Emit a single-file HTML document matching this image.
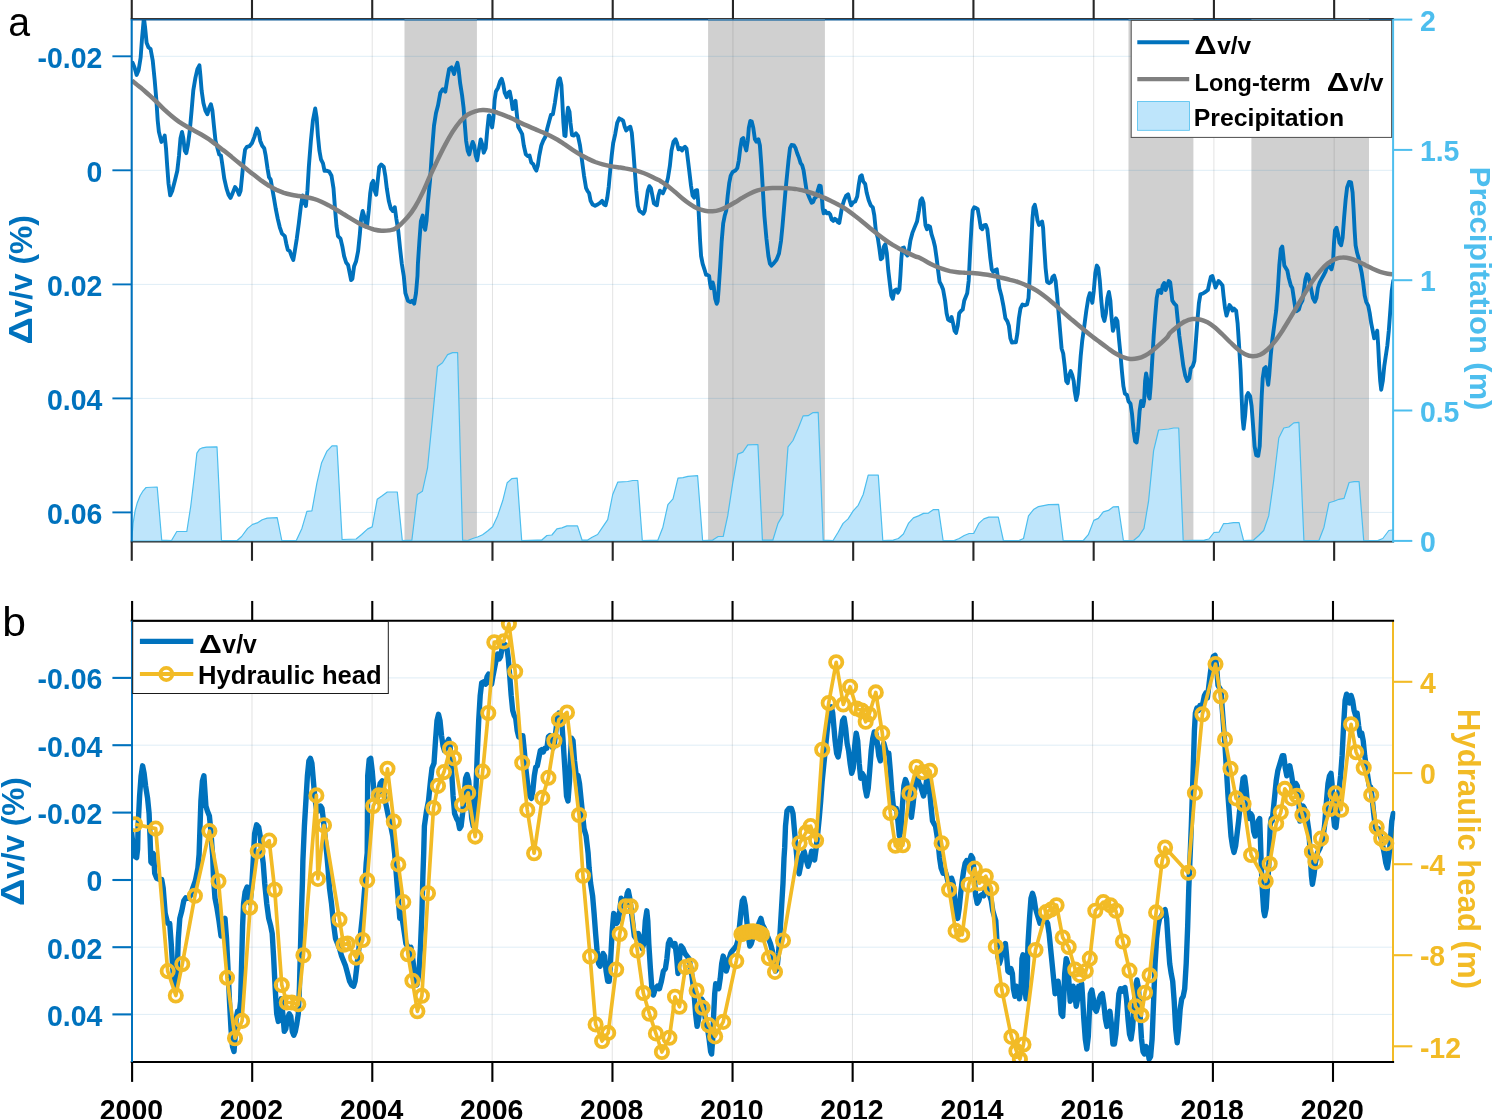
<!DOCTYPE html>
<html><head><meta charset="utf-8"><title>Figure</title>
<style>html,body{margin:0;padding:0;background:#fff}svg{display:block;will-change:transform}text{font-family:"Liberation Sans",Arial,Helvetica,sans-serif}</style></head><body>
<svg width="1494" height="1119" viewBox="0 0 1494 1119">
<rect width="1494" height="1119" fill="#fff"/>
<defs><clipPath id="ca"><rect x="131.7" y="19.3" width="1261.4" height="522.0"/></clipPath><clipPath id="cb"><rect x="131.7" y="620.9" width="1263.6" height="441.1"/></clipPath></defs>
<rect x="404.5" y="19.3" width="72.4" height="522.2" fill="#d0d0d0"/>
<rect x="708.1" y="19.3" width="116.8" height="522.2" fill="#d0d0d0"/>
<rect x="1128.5" y="19.3" width="64.9" height="522.2" fill="#d0d0d0"/>
<rect x="1251.4" y="19.3" width="117.6" height="522.2" fill="#d0d0d0"/>
<line x1="251.99" y1="19.30" x2="251.99" y2="541.50" stroke="#262626" stroke-width="1" stroke-opacity="0.13"/>
<line x1="372.23" y1="19.30" x2="372.23" y2="541.50" stroke="#262626" stroke-width="1" stroke-opacity="0.13"/>
<line x1="492.47" y1="19.30" x2="492.47" y2="541.50" stroke="#262626" stroke-width="1" stroke-opacity="0.13"/>
<line x1="612.71" y1="19.30" x2="612.71" y2="541.50" stroke="#262626" stroke-width="1" stroke-opacity="0.13"/>
<line x1="732.95" y1="19.30" x2="732.95" y2="541.50" stroke="#262626" stroke-width="1" stroke-opacity="0.13"/>
<line x1="853.19" y1="19.30" x2="853.19" y2="541.50" stroke="#262626" stroke-width="1" stroke-opacity="0.13"/>
<line x1="973.43" y1="19.30" x2="973.43" y2="541.50" stroke="#262626" stroke-width="1" stroke-opacity="0.13"/>
<line x1="1093.67" y1="19.30" x2="1093.67" y2="541.50" stroke="#262626" stroke-width="1" stroke-opacity="0.13"/>
<line x1="1213.91" y1="19.30" x2="1213.91" y2="541.50" stroke="#262626" stroke-width="1" stroke-opacity="0.13"/>
<line x1="1334.15" y1="19.30" x2="1334.15" y2="541.50" stroke="#262626" stroke-width="1" stroke-opacity="0.13"/>
<line x1="131.70" y1="56.30" x2="1393.10" y2="56.30" stroke="#0072BD" stroke-width="1" stroke-opacity="0.13"/>
<line x1="131.70" y1="170.30" x2="1393.10" y2="170.30" stroke="#0072BD" stroke-width="1" stroke-opacity="0.13"/>
<line x1="131.70" y1="284.40" x2="1393.10" y2="284.40" stroke="#0072BD" stroke-width="1" stroke-opacity="0.13"/>
<line x1="131.70" y1="398.40" x2="1393.10" y2="398.40" stroke="#0072BD" stroke-width="1" stroke-opacity="0.13"/>
<line x1="131.70" y1="512.40" x2="1393.10" y2="512.40" stroke="#0072BD" stroke-width="1" stroke-opacity="0.13"/>
<line x1="130.70" y1="541.50" x2="1394.10" y2="541.50" stroke="#262626" stroke-width="2.1"/>
<g clip-path="url(#ca)"><polygon points="131.6,541.2 131.6,541.0 133.1,523.4 135.1,510.9 137.1,503.3 140.1,495.8 143.1,490.8 146.1,487.5 157.2,487.0 161.7,540.0 171.5,540.5 176.8,531.5 186.8,531.5 190.8,505.8 194.4,475.7 196.9,453.1 199.4,449.3 202.4,447.8 206.4,447.1 217.0,446.8 221.5,540.5 237.1,540.5 241.6,536.5 247.6,528.4 252.6,524.4 257.2,522.9 262.2,519.7 267.2,518.1 277.2,517.6 281.8,540.5 296.3,540.5 301.9,528.4 306.9,511.4 311.9,510.9 316.9,483.2 321.5,463.1 327.0,451.1 332.0,445.8 337.0,445.8 342.1,539.5 356.1,539.0 361.6,534.5 367.7,528.9 372.2,526.9 377.2,499.3 382.2,495.8 387.3,492.0 397.3,492.0 402.3,540.5 411.9,540.0 417.4,494.5 422.4,491.3 427.5,468.2 432.5,417.9 437.5,366.4 442.5,362.7 447.6,354.6 452.6,352.6 457.6,352.6 462.6,540.0 467.7,540.5 472.7,538.5 477.5,537.0 482.6,534.7 487.6,531.0 492.6,526.7 497.6,515.9 502.7,500.8 507.2,482.7 511.7,478.7 517.2,478.2 521.7,540.5 537.3,540.0 541.8,540.0 546.9,535.5 551.9,535.0 556.9,528.9 561.9,527.9 567.0,525.9 577.5,525.9 582.0,540.0 587.6,540.0 592.1,537.2 597.6,534.5 602.6,527.2 607.7,519.7 612.7,494.5 617.7,482.2 627.7,481.5 632.8,480.5 637.8,480.5 642.3,540.5 657.9,540.0 662.9,527.2 667.9,504.6 673.0,498.8 678.0,478.2 683.0,477.7 688.0,476.4 697.6,475.7 702.6,540.5 712.7,540.0 718.2,536.5 723.2,536.5 727.7,515.9 732.7,483.2 737.8,454.1 742.8,452.1 747.8,444.8 757.9,444.5 762.4,540.0 772.9,540.0 778.0,523.4 783.0,514.6 788.0,446.8 793.0,440.5 798.1,428.5 803.1,415.9 808.1,415.7 813.1,412.6 818.2,412.4 823.2,540.0 833.1,540.5 838.1,532.2 843.1,523.4 848.1,518.9 853.2,510.9 858.2,505.3 863.2,494.5 868.2,475.2 878.3,475.2 882.8,540.5 893.3,540.0 898.4,538.5 903.4,534.0 908.4,523.4 913.4,517.9 918.5,515.9 923.5,513.4 928.5,513.1 933.5,509.6 938.6,509.6 943.1,540.5 954.1,540.5 959.2,538.5 964.2,535.5 969.2,533.5 973.7,533.5 978.8,523.4 983.8,518.9 988.8,517.1 998.3,517.1 1003.4,540.5 1018.9,540.5 1023.5,538.5 1028.5,515.9 1033.5,509.6 1038.5,506.6 1043.6,505.6 1048.6,504.6 1058.6,504.3 1063.2,540.5 1083.3,540.5 1088.3,534.7 1093.8,520.4 1098.3,518.4 1103.3,511.9 1108.4,510.4 1113.4,506.8 1118.4,506.6 1123.4,540.5 1133.5,540.5 1139.0,536.0 1144.0,528.4 1148.6,500.8 1153.6,450.6 1158.6,430.0 1168.7,429.0 1173.7,428.0 1178.7,428.0 1183.2,540.5 1204.4,540.0 1208.9,539.0 1214.0,532.5 1219.0,532.2 1223.5,523.7 1228.5,523.4 1233.5,522.7 1239.1,522.7 1243.6,540.5 1253.6,540.0 1258.7,535.5 1263.7,530.5 1268.7,515.9 1273.7,480.7 1278.8,438.0 1283.8,428.0 1288.8,427.0 1293.8,422.9 1298.9,422.4 1303.9,540.5 1318.9,540.5 1324.0,527.2 1329.0,502.8 1334.0,501.3 1339.0,499.3 1344.1,498.3 1349.1,482.5 1354.1,481.7 1359.1,481.7 1363.7,540.5 1377.7,540.5 1382.8,538.5 1388.8,530.5 1393.3,529.9 1393.1,541.2" fill="#BEE5FB" stroke="#4DBEEE" stroke-width="1.2" stroke-linejoin="round"/>
<polyline points="132.6,62.8 134.6,67.8 136.6,74.9 138.6,70.3 140.6,57.8 142.1,37.7 143.9,17.6 145.1,27.6 146.6,42.7 148.4,47.2 150.6,49.0 152.7,60.3 154.7,80.4 156.4,100.5 157.7,120.6 158.9,131.9 161.4,141.9 163.2,139.4 164.7,135.6 166.0,148.2 167.2,165.8 168.5,183.4 170.2,195.4 172.2,190.9 174.8,180.9 177.3,170.8 179.0,155.7 180.5,138.2 182.0,131.9 183.3,138.2 184.8,150.7 186.3,153.2 187.8,145.7 189.8,130.6 191.6,110.5 193.3,90.4 195.4,77.9 197.4,69.1 199.4,65.3 200.4,75.4 201.6,90.4 203.4,103.0 205.4,110.5 207.4,114.3 209.2,108.0 210.9,104.2 212.4,110.5 213.9,125.6 215.5,140.7 217.5,148.2 219.2,154.5 221.0,155.7 222.5,165.8 224.2,178.3 226.5,188.4 228.5,194.7 230.5,197.9 232.5,193.4 235.0,187.1 237.1,189.7 239.1,194.7 240.6,190.9 242.1,175.8 243.6,160.8 245.1,149.5 246.9,146.9 249.4,146.2 251.9,143.2 254.4,136.9 256.9,128.6 258.7,131.9 260.2,140.7 262.2,145.7 264.2,148.2 265.7,155.7 267.5,168.3 269.0,177.1 270.7,179.6 272.2,188.4 274.0,198.4 275.7,208.5 277.7,218.5 279.8,227.3 282.0,233.6 284.8,236.1 286.3,243.7 287.8,249.9 289.8,251.2 291.6,256.2 293.3,260.0 294.8,251.2 296.8,238.6 298.8,223.6 300.9,206.0 302.6,195.4 304.1,201.0 305.9,206.0 307.4,190.9 308.9,165.8 310.9,140.7 312.9,120.6 315.2,108.5 316.7,118.1 317.9,135.6 319.4,150.7 321.0,159.5 323.0,163.3 324.5,170.8 327.0,170.8 329.2,171.6 331.5,175.8 333.5,188.4 335.0,208.5 336.5,226.1 338.0,236.1 340.5,238.6 342.3,246.2 344.1,256.2 346.1,262.5 348.1,265.0 349.6,272.5 351.1,280.1 352.4,278.8 354.1,266.3 356.1,261.2 358.1,251.2 359.9,233.6 361.1,218.5 362.7,211.0 364.2,216.0 365.7,223.6 367.2,224.8 368.7,211.0 370.2,193.4 371.7,183.4 373.2,180.9 374.7,190.9 376.2,194.7 377.7,180.9 379.2,167.0 381.2,164.5 383.8,167.0 385.3,175.8 386.8,188.4 388.8,201.0 390.8,208.5 392.8,211.0 394.8,207.2 396.3,218.5 398.3,231.1 400.1,248.7 401.8,263.8 403.8,276.3 405.4,293.2 407.9,300.7 410.4,302.0 412.4,300.7 414.2,303.7 416.0,293.2 417.5,275.6 417.9,263.8 419.4,241.1 420.9,221.0 422.7,215.5 423.9,226.1 425.2,229.8 426.5,221.0 428.0,201.0 430.0,180.9 432.0,150.7 434.0,125.6 436.0,113.0 438.0,105.5 440.3,92.9 442.8,89.2 445.3,91.7 447.1,80.4 449.1,69.1 451.6,67.3 454.1,74.1 455.6,67.8 457.4,62.8 458.6,69.1 460.1,82.9 462.1,95.5 463.6,108.0 464.9,125.6 466.1,140.7 467.7,150.7 469.2,154.5 470.7,148.2 472.7,141.9 474.2,145.7 475.7,155.7 477.2,160.3 478.7,150.7 480.7,139.4 482.2,144.4 483.7,152.7 485.7,148.2 487.2,130.6 488.8,115.5 489.1,115.4 490.6,120.4 492.1,127.4 493.4,117.9 494.6,100.3 495.9,91.5 498.1,87.7 500.1,81.4 501.7,78.9 503.2,84.0 504.7,92.8 506.7,97.3 508.2,92.8 509.7,91.5 511.2,99.0 512.7,109.1 514.2,102.8 515.5,100.8 516.7,112.8 518.2,126.7 520.2,130.4 522.2,134.2 523.8,145.5 525.8,154.3 527.8,156.1 529.5,155.5 531.3,162.6 533.3,164.3 534.8,168.1 536.3,170.6 537.8,165.6 539.3,155.5 541.3,145.5 543.3,140.5 545.4,136.7 547.4,127.9 549.4,120.4 550.9,114.9 552.9,114.1 554.9,102.8 556.9,89.0 558.4,80.2 559.9,78.2 561.4,85.2 562.4,102.8 563.4,122.9 564.4,135.5 565.5,136.0 566.5,120.4 568.0,107.8 569.5,111.6 570.5,122.9 572.0,135.0 574.0,135.5 576.0,133.4 578.0,136.0 580.0,145.5 582.0,160.6 584.0,175.6 586.1,188.2 587.6,191.2 589.1,193.2 590.6,200.8 592.6,204.5 595.1,205.8 597.6,204.5 600.1,202.8 602.1,200.8 604.1,204.5 605.6,205.3 607.2,198.3 608.7,186.9 610.2,170.6 611.7,155.5 613.2,143.0 615.2,134.2 617.2,122.9 619.2,118.4 621.2,119.4 623.2,120.9 624.7,126.7 626.2,130.4 628.3,127.9 630.3,126.7 631.8,132.9 633.3,150.5 634.8,170.6 636.3,190.7 637.8,205.8 639.3,210.8 641.3,212.1 643.3,213.8 644.8,210.8 646.3,200.8 647.8,190.7 649.4,186.2 650.9,188.2 652.4,195.7 653.9,203.3 655.4,204.5 656.9,205.3 658.4,195.7 659.9,190.7 661.4,192.0 662.9,193.2 664.4,189.7 665.9,185.7 667.9,178.2 669.9,165.6 671.5,150.5 673.5,141.7 675.5,139.2 677.0,143.0 678.5,149.3 680.5,148.0 682.0,150.5 683.5,148.0 685.0,146.8 686.5,148.5 688.0,160.6 689.5,173.1 691.0,185.7 692.6,195.7 694.1,197.7 695.6,190.7 697.1,190.2 698.1,200.8 699.1,220.9 700.1,241.0 701.1,256.0 702.6,263.6 704.6,269.8 706.1,274.9 707.6,274.9 709.1,276.1 710.1,283.7 711.1,288.2 712.7,282.4 713.7,286.2 715.2,298.7 716.7,303.8 717.7,301.2 718.7,288.7 720.2,266.1 721.7,241.0 723.2,223.4 724.7,215.8 726.2,210.8 727.7,195.7 729.2,183.2 730.7,175.6 732.7,171.9 735.3,170.6 737.3,168.1 738.8,160.6 740.3,148.0 741.8,139.2 743.3,138.0 744.8,145.5 746.3,150.5 747.8,140.5 748.8,127.9 750.3,120.9 751.8,121.6 753.3,127.9 754.9,139.2 756.4,141.7 758.4,139.2 759.9,145.5 761.4,165.6 762.9,190.7 764.4,215.8 766.4,238.4 768.4,256.0 769.9,263.6 771.4,265.6 773.9,263.1 776.5,259.8 779.0,253.5 781.0,241.0 782.5,225.9 784.0,208.3 785.5,190.7 787.0,175.6 788.5,160.6 790.0,148.0 791.5,145.0 794.0,145.5 795.5,148.0 797.1,153.0 799.1,158.1 800.6,163.1 802.1,165.1 803.6,170.6 805.1,180.7 806.6,190.7 808.1,194.5 809.6,198.3 811.6,202.8 813.1,202.0 814.6,198.3 816.1,197.0 817.7,190.7 819.2,185.7 820.7,186.2 821.7,195.7 822.7,208.3 823.7,213.3 825.2,210.8 826.7,213.3 828.7,212.8 830.2,214.6 831.7,219.6 833.2,220.9 834.7,218.8 836.2,219.6 837.7,222.1 839.3,222.9 840.6,215.4 842.1,206.6 844.1,200.3 846.1,195.8 848.1,194.3 849.6,200.3 851.1,205.3 853.2,202.3 855.2,201.5 857.2,196.5 858.7,185.2 860.2,176.4 861.7,175.2 863.2,181.4 865.2,184.0 866.7,192.8 868.7,200.3 870.7,205.3 872.8,207.3 874.3,215.4 875.8,230.4 877.8,238.0 879.3,248.0 880.8,259.3 882.3,258.1 883.8,246.8 885.3,244.2 886.8,253.0 888.3,270.6 889.8,283.2 891.3,295.7 892.8,298.8 894.4,290.7 896.4,289.5 897.9,292.7 899.4,289.5 900.4,275.6 901.4,258.1 902.4,248.0 903.9,247.5 905.4,253.0 907.4,255.5 908.9,250.5 910.4,240.5 912.4,232.9 914.4,227.9 917.0,221.6 919.0,210.3 920.5,200.3 922.0,198.3 923.5,202.8 924.5,215.4 925.5,225.4 927.0,229.2 928.5,225.9 930.0,226.7 931.5,234.2 933.5,240.5 935.0,246.8 936.6,258.1 938.1,270.6 939.6,281.9 941.6,285.7 943.1,289.5 945.1,300.8 946.6,313.3 948.1,319.6 950.1,320.9 951.6,317.1 953.1,323.4 954.6,330.9 956.1,332.9 957.7,325.9 959.2,313.3 961.2,310.8 962.7,309.6 964.2,300.8 965.7,297.0 967.2,293.2 968.7,280.7 969.7,260.6 970.7,240.5 971.7,222.9 972.7,210.3 974.2,207.3 975.7,207.8 977.7,209.1 979.3,217.9 980.8,227.9 982.3,229.2 983.8,225.4 985.8,224.9 987.3,229.2 988.8,243.0 990.3,258.1 991.8,269.4 993.3,271.9 995.3,270.1 996.8,269.4 997.8,276.9 999.4,288.2 1001.4,295.7 1003.4,305.8 1005.4,318.3 1007.4,321.4 1008.9,325.9 1010.4,338.4 1011.9,342.5 1013.9,342.2 1015.9,342.2 1017.4,333.4 1018.9,318.3 1020.5,308.3 1022.5,304.5 1025.0,305.3 1027.0,304.5 1028.5,298.3 1029.5,280.7 1030.5,260.6 1031.5,238.0 1032.5,217.9 1033.5,207.3 1034.8,204.8 1036.0,210.3 1037.5,220.4 1039.0,224.9 1040.5,222.9 1042.1,221.6 1043.1,227.9 1044.1,245.5 1045.6,268.1 1047.1,281.9 1049.1,283.2 1051.1,281.9 1052.6,276.9 1054.1,275.6 1055.6,280.7 1057.1,295.7 1058.6,313.3 1060.1,330.9 1061.6,348.5 1063.2,353.5 1064.7,366.1 1066.2,381.1 1067.7,383.2 1069.2,374.9 1070.7,371.1 1072.2,374.9 1073.7,381.1 1074.7,391.2 1076.2,400.0 1077.7,393.7 1079.2,376.1 1080.7,356.0 1082.2,341.0 1084.3,325.9 1086.3,310.8 1088.3,298.3 1089.8,293.2 1091.3,298.3 1092.3,302.8 1093.8,290.7 1095.3,273.1 1096.8,265.6 1098.3,268.1 1099.8,280.7 1101.3,300.8 1102.8,315.8 1104.4,320.9 1105.9,313.3 1107.4,298.3 1108.9,292.0 1110.4,300.8 1111.4,315.8 1112.9,330.9 1114.4,325.9 1115.9,318.3 1117.4,320.9 1118.9,338.4 1120.4,353.5 1121.9,371.1 1123.4,386.2 1124.9,393.7 1127.0,395.0 1128.5,401.2 1130.5,403.8 1132.0,413.8 1133.6,431.2 1135.1,441.2 1136.6,442.5 1138.1,431.2 1139.6,411.1 1141.1,401.0 1143.1,406.1 1144.1,401.0 1145.1,381.0 1146.1,373.4 1147.6,381.0 1148.6,396.0 1149.6,398.5 1150.7,386.0 1152.2,360.9 1153.7,335.7 1155.2,315.6 1156.7,298.1 1158.2,290.5 1159.7,290.0 1161.2,293.0 1162.7,285.5 1164.2,283.0 1165.7,290.0 1167.2,285.5 1168.7,281.0 1170.2,282.5 1171.2,290.5 1172.3,300.6 1174.3,303.6 1176.3,305.6 1177.8,320.7 1179.3,335.7 1181.3,350.8 1183.3,365.9 1185.3,375.9 1187.3,381.0 1189.3,378.4 1190.8,368.4 1192.9,365.9 1194.4,360.9 1195.9,340.8 1197.4,320.7 1198.9,303.1 1200.4,294.3 1202.9,293.5 1205.4,291.8 1207.9,290.0 1209.4,283.0 1210.9,276.7 1212.4,276.0 1214.0,281.7 1215.5,287.5 1217.0,284.2 1218.5,281.0 1220.5,283.0 1222.5,285.5 1223.5,295.5 1225.0,308.1 1226.5,315.6 1228.0,310.6 1229.5,305.1 1231.0,306.9 1232.5,310.6 1234.0,308.6 1236.1,310.6 1237.6,323.2 1239.1,345.8 1240.6,370.9 1241.6,396.0 1242.6,418.6 1243.6,428.7 1245.1,416.1 1246.6,396.0 1248.1,393.0 1250.1,396.0 1251.6,406.1 1253.1,426.2 1254.6,446.3 1256.2,455.1 1258.2,455.8 1259.7,446.3 1260.7,421.1 1261.7,396.0 1262.7,378.4 1264.2,368.4 1265.7,367.1 1267.2,378.4 1268.2,384.7 1269.2,375.9 1270.7,355.8 1272.2,340.8 1274.2,325.7 1276.2,310.6 1277.8,290.5 1279.3,265.4 1280.8,249.1 1282.3,246.6 1283.3,255.4 1284.3,265.4 1285.8,267.9 1287.3,270.4 1288.8,278.0 1290.8,285.5 1292.3,288.0 1293.8,298.1 1295.3,308.1 1296.8,311.1 1298.9,309.4 1300.4,304.3 1302.4,300.6 1303.9,290.5 1305.4,279.2 1306.9,274.2 1308.4,275.5 1309.9,283.0 1311.4,290.5 1312.9,298.1 1314.9,301.8 1316.4,298.1 1317.9,288.0 1319.5,283.0 1321.5,279.2 1323.5,275.5 1325.5,271.7 1327.5,265.4 1329.5,266.7 1331.5,269.2 1333.0,262.9 1334.0,242.8 1335.0,230.2 1336.5,227.7 1338.0,234.0 1339.5,242.8 1341.1,245.3 1342.6,237.8 1344.1,217.7 1345.6,200.1 1347.1,187.5 1349.1,182.0 1351.1,182.5 1352.6,192.6 1353.6,210.1 1354.6,230.2 1355.6,245.3 1357.1,252.8 1358.6,257.9 1360.1,265.4 1361.7,272.9 1363.2,283.0 1364.7,295.5 1366.2,301.8 1368.2,305.6 1369.7,313.1 1371.2,323.2 1372.7,330.7 1374.2,338.3 1375.7,335.7 1377.2,330.7 1378.2,345.8 1379.2,365.9 1380.2,381.0 1381.2,389.7 1382.8,381.0 1384.3,365.9 1385.8,355.8 1387.3,345.8 1388.8,330.7 1390.3,310.6 1391.8,290.5 1393.3,280.5" fill="none" stroke="#0072BD" stroke-width="3.9" stroke-linejoin="round" stroke-linecap="round"/>
<path d="M131.7,80.6 C132.0,80.9 132.2,80.9 133.8,82.1 C135.3,83.4 138.8,86.1 141.3,88.1 C143.8,90.2 146.3,92.5 148.8,94.7 C151.3,97.0 153.8,99.3 156.3,101.7 C158.8,104.1 161.3,106.8 163.8,109.2 C166.3,111.5 168.8,113.7 171.3,115.7 C173.8,117.8 176.3,119.8 178.8,121.6 C181.3,123.3 183.8,124.8 186.3,126.2 C188.8,127.7 191.3,129.0 193.8,130.4 C196.3,131.7 198.8,133.0 201.3,134.5 C203.8,136.0 206.3,137.5 208.8,139.2 C211.3,140.9 213.8,142.9 216.3,144.8 C218.8,146.7 221.3,148.7 223.8,150.6 C226.3,152.6 228.8,154.6 231.3,156.6 C233.8,158.7 236.3,160.8 238.8,162.8 C241.3,164.9 243.8,166.8 246.3,168.8 C248.8,170.8 251.3,172.9 253.9,174.8 C256.4,176.8 258.9,178.8 261.4,180.7 C263.9,182.5 266.4,184.2 268.9,185.7 C271.4,187.3 273.9,188.7 276.4,189.9 C278.9,191.0 281.4,192.0 283.9,192.9 C286.4,193.7 288.9,194.2 291.4,194.7 C293.9,195.3 296.4,195.6 298.9,196.0 C301.4,196.5 303.9,196.7 306.4,197.2 C308.9,197.6 311.4,198.1 313.9,198.9 C316.4,199.6 318.9,200.6 321.4,201.7 C323.9,202.8 326.4,204.1 328.9,205.4 C331.4,206.8 333.9,208.3 336.4,209.7 C338.9,211.2 341.4,212.7 343.9,214.3 C346.4,215.8 348.9,217.4 351.4,218.9 C353.9,220.4 356.4,221.9 358.9,223.3 C361.4,224.6 363.9,225.8 366.4,226.8 C368.9,227.9 371.4,228.8 373.9,229.5 C376.5,230.1 379.0,230.6 381.5,230.8 C384.0,230.9 386.5,230.9 389.0,230.4 C391.5,229.9 393.4,230.1 396.5,227.9 C399.6,225.8 404.4,220.8 407.5,217.3 C410.6,213.8 412.5,211.1 415.0,207.0 C417.5,202.9 420.0,198.1 422.5,192.9 C425.0,187.8 427.5,181.5 430.0,176.0 C432.5,170.6 435.0,165.3 437.5,160.1 C440.0,154.9 442.5,149.8 445.0,145.1 C447.5,140.4 450.0,135.9 452.5,131.9 C455.0,128.0 457.5,124.5 460.0,121.6 C462.6,118.8 465.1,116.4 467.6,114.7 C470.1,113.0 472.6,112.1 475.1,111.3 C477.6,110.5 480.1,110.1 482.6,110.0 C485.1,109.9 487.6,110.1 490.1,110.6 C492.6,111.0 495.1,112.0 497.6,112.8 C500.1,113.7 502.6,114.6 505.1,115.6 C507.6,116.6 510.1,117.7 512.6,118.8 C515.1,120.0 517.6,121.4 520.1,122.6 C522.6,123.8 525.1,124.9 527.6,125.9 C530.1,127.0 532.6,128.1 535.1,129.1 C537.6,130.2 540.1,131.2 542.6,132.3 C545.1,133.4 547.6,134.5 550.1,135.7 C552.6,137.0 555.1,138.3 557.6,139.8 C560.1,141.3 562.6,143.1 565.1,144.7 C567.6,146.4 570.1,148.2 572.6,149.8 C575.1,151.4 577.6,153.0 580.1,154.5 C582.6,155.9 585.2,157.3 587.7,158.6 C590.2,159.8 592.7,161.0 595.2,162.0 C597.7,162.9 600.2,163.7 602.7,164.4 C605.2,165.1 607.7,165.6 610.2,166.1 C612.7,166.6 615.2,166.9 617.7,167.2 C620.2,167.6 622.7,167.9 625.2,168.4 C627.7,168.8 630.2,169.3 632.7,169.9 C635.2,170.4 637.7,171.1 640.2,171.9 C642.7,172.7 645.2,173.6 647.7,174.7 C650.2,175.8 653.2,177.5 655.2,178.5 C657.3,179.5 658.0,179.4 660.0,180.7 C662.0,181.9 665.0,184.1 667.5,185.9 C670.0,187.8 672.5,189.9 675.0,191.9 C677.5,194.0 680.0,196.5 682.5,198.5 C685.0,200.6 687.5,202.5 690.0,204.1 C692.5,205.8 695.0,207.4 697.5,208.5 C700.0,209.6 702.5,210.2 705.0,210.7 C707.5,211.2 710.0,211.4 712.5,211.3 C715.0,211.1 717.5,210.6 720.0,209.8 C722.6,209.0 725.1,207.8 727.6,206.6 C730.1,205.3 732.6,203.8 735.1,202.3 C737.6,200.8 740.1,199.0 742.6,197.6 C745.1,196.1 747.6,194.6 750.1,193.5 C752.6,192.3 755.1,191.2 757.6,190.4 C760.1,189.7 762.6,189.2 765.1,188.8 C767.6,188.4 770.1,188.1 772.6,188.0 C775.1,187.9 777.6,188.0 780.1,188.0 C782.6,188.0 785.1,188.0 787.6,188.2 C790.1,188.4 792.6,188.6 795.1,188.9 C797.6,189.3 800.1,189.9 802.6,190.4 C805.1,191.0 807.6,191.7 810.1,192.5 C812.6,193.3 815.1,194.2 817.6,195.1 C820.1,196.1 822.6,197.0 825.1,198.1 C827.6,199.2 830.1,200.5 832.6,201.7 C835.1,203.0 837.6,204.2 840.1,205.6 C842.6,207.1 845.2,208.6 847.7,210.3 C850.2,212.1 852.7,214.0 855.2,216.0 C857.7,217.9 860.2,219.9 862.7,222.0 C865.2,224.0 867.7,226.1 870.2,228.2 C872.7,230.2 875.2,232.2 877.7,234.2 C880.2,236.1 882.7,238.0 885.2,239.8 C887.7,241.6 890.2,243.3 892.7,244.9 C895.2,246.4 897.7,247.8 900.2,249.2 C902.7,250.5 905.2,251.7 907.7,252.9 C910.2,254.1 913.2,255.5 915.2,256.3 C917.3,257.1 918.0,256.9 920.0,257.9 C922.0,258.9 925.0,260.9 927.5,262.2 C930.0,263.6 932.5,264.9 935.0,266.0 C937.5,267.1 940.0,268.0 942.5,268.8 C945.0,269.7 947.5,270.5 950.0,271.1 C952.5,271.6 955.0,271.9 957.5,272.2 C960.0,272.5 962.5,272.6 965.0,272.8 C967.5,272.9 970.0,273.0 972.5,273.1 C975.0,273.3 977.5,273.4 980.0,273.7 C982.6,274.0 985.1,274.4 987.6,274.8 C990.1,275.3 992.6,275.8 995.1,276.3 C997.6,276.9 1000.1,277.4 1002.6,278.0 C1005.1,278.6 1007.6,279.2 1010.1,279.9 C1012.6,280.5 1015.1,281.1 1017.6,281.9 C1020.1,282.8 1022.6,283.7 1025.1,284.8 C1027.6,285.8 1030.1,287.0 1032.6,288.3 C1035.1,289.7 1037.6,291.1 1040.1,292.8 C1042.6,294.5 1045.1,296.5 1047.6,298.5 C1050.1,300.5 1052.6,302.7 1055.1,304.8 C1057.6,307.0 1060.1,309.4 1062.6,311.6 C1065.1,313.8 1067.6,316.0 1070.1,318.2 C1072.6,320.3 1075.1,322.5 1077.6,324.5 C1080.1,326.6 1082.6,328.7 1085.1,330.7 C1087.6,332.8 1090.1,334.8 1092.6,336.7 C1095.1,338.7 1097.6,340.5 1100.1,342.4 C1102.6,344.3 1105.2,346.2 1107.7,348.0 C1110.2,349.8 1112.7,351.8 1115.2,353.3 C1117.7,354.8 1120.2,356.1 1122.7,357.0 C1125.2,357.9 1127.7,358.7 1130.2,358.9 C1132.7,359.1 1135.2,358.9 1137.7,358.3 C1140.2,357.8 1142.7,356.8 1145.2,355.5 C1147.7,354.2 1150.2,352.4 1152.7,350.4 C1155.2,348.5 1157.7,346.2 1160.2,343.9 C1162.7,341.6 1166.1,338.6 1167.7,336.7 C1169.3,334.9 1168.4,334.7 1170.0,333.0 C1171.6,331.3 1175.0,328.4 1177.5,326.4 C1180.0,324.5 1182.5,322.6 1185.0,321.4 C1187.5,320.1 1190.0,319.4 1192.5,319.1 C1195.0,318.8 1197.5,318.9 1200.0,319.5 C1202.5,320.0 1205.0,321.0 1207.5,322.3 C1210.0,323.6 1212.5,325.5 1215.0,327.5 C1217.5,329.6 1220.0,332.1 1222.5,334.5 C1225.0,336.9 1227.5,339.6 1230.0,342.0 C1232.6,344.4 1235.1,347.1 1237.6,349.1 C1240.1,351.2 1242.6,353.0 1245.1,354.2 C1247.6,355.4 1250.1,356.2 1252.6,356.3 C1255.1,356.4 1257.6,355.9 1260.1,354.8 C1262.6,353.6 1265.1,351.8 1267.6,349.5 C1270.1,347.2 1272.6,344.3 1275.1,341.1 C1277.6,337.9 1280.1,334.2 1282.6,330.4 C1285.1,326.5 1287.6,322.3 1290.1,318.2 C1292.6,314.0 1295.1,309.6 1297.6,305.4 C1300.1,301.2 1302.6,296.9 1305.1,292.8 C1307.6,288.8 1310.1,284.6 1312.6,281.0 C1315.1,277.4 1317.6,274.0 1320.1,271.1 C1322.6,268.2 1325.1,265.6 1327.6,263.6 C1330.1,261.6 1332.6,260.1 1335.1,259.1 C1337.6,258.1 1340.1,257.6 1342.6,257.6 C1345.1,257.5 1347.6,257.9 1350.1,258.5 C1352.6,259.1 1355.2,260.2 1357.7,261.3 C1360.2,262.4 1362.7,263.8 1365.2,265.1 C1367.7,266.3 1370.2,267.7 1372.7,268.8 C1375.2,269.9 1377.7,271.0 1380.2,271.8 C1382.7,272.6 1385.6,273.3 1387.7,273.7 C1389.8,274.1 1392.1,274.3 1392.9,274.4" fill="none" stroke="#808080" stroke-width="4.5" stroke-linecap="butt"/></g>
<line x1="130.70" y1="18.55" x2="1394.10" y2="18.55" stroke="#3a3634" stroke-width="1.1"/>
<line x1="130.70" y1="19.75" x2="1394.10" y2="19.75" stroke="#0f5b95" stroke-width="1.4"/>
<line x1="404.50" y1="19.75" x2="476.90" y2="19.75" stroke="#4d88b2" stroke-width="1.4"/>
<line x1="708.10" y1="19.75" x2="824.90" y2="19.75" stroke="#4d88b2" stroke-width="1.4"/>
<line x1="1128.50" y1="19.75" x2="1193.40" y2="19.75" stroke="#4d88b2" stroke-width="1.4"/>
<line x1="1251.40" y1="19.75" x2="1369.00" y2="19.75" stroke="#4d88b2" stroke-width="1.4"/>
<line x1="131.75" y1="0.00" x2="131.75" y2="19.30" stroke="#262626" stroke-width="2.1"/>
<line x1="131.75" y1="541.50" x2="131.75" y2="560.80" stroke="#262626" stroke-width="2.1"/>
<line x1="251.99" y1="0.00" x2="251.99" y2="19.30" stroke="#262626" stroke-width="2.1"/>
<line x1="251.99" y1="541.50" x2="251.99" y2="560.80" stroke="#262626" stroke-width="2.1"/>
<line x1="372.23" y1="0.00" x2="372.23" y2="19.30" stroke="#262626" stroke-width="2.1"/>
<line x1="372.23" y1="541.50" x2="372.23" y2="560.80" stroke="#262626" stroke-width="2.1"/>
<line x1="492.47" y1="0.00" x2="492.47" y2="19.30" stroke="#262626" stroke-width="2.1"/>
<line x1="492.47" y1="541.50" x2="492.47" y2="560.80" stroke="#262626" stroke-width="2.1"/>
<line x1="612.71" y1="0.00" x2="612.71" y2="19.30" stroke="#262626" stroke-width="2.1"/>
<line x1="612.71" y1="541.50" x2="612.71" y2="560.80" stroke="#262626" stroke-width="2.1"/>
<line x1="732.95" y1="0.00" x2="732.95" y2="19.30" stroke="#262626" stroke-width="2.1"/>
<line x1="732.95" y1="541.50" x2="732.95" y2="560.80" stroke="#262626" stroke-width="2.1"/>
<line x1="853.19" y1="0.00" x2="853.19" y2="19.30" stroke="#262626" stroke-width="2.1"/>
<line x1="853.19" y1="541.50" x2="853.19" y2="560.80" stroke="#262626" stroke-width="2.1"/>
<line x1="973.43" y1="0.00" x2="973.43" y2="19.30" stroke="#262626" stroke-width="2.1"/>
<line x1="973.43" y1="541.50" x2="973.43" y2="560.80" stroke="#262626" stroke-width="2.1"/>
<line x1="1093.67" y1="0.00" x2="1093.67" y2="19.30" stroke="#262626" stroke-width="2.1"/>
<line x1="1093.67" y1="541.50" x2="1093.67" y2="560.80" stroke="#262626" stroke-width="2.1"/>
<line x1="1213.91" y1="0.00" x2="1213.91" y2="19.30" stroke="#262626" stroke-width="2.1"/>
<line x1="1213.91" y1="541.50" x2="1213.91" y2="560.80" stroke="#262626" stroke-width="2.1"/>
<line x1="1334.15" y1="0.00" x2="1334.15" y2="19.30" stroke="#262626" stroke-width="2.1"/>
<line x1="1334.15" y1="541.50" x2="1334.15" y2="560.80" stroke="#262626" stroke-width="2.1"/>
<line x1="131.70" y1="19.30" x2="131.70" y2="541.50" stroke="#0072BD" stroke-width="2.1"/>
<line x1="1393.10" y1="19.30" x2="1393.10" y2="542.50" stroke="#4DBEEE" stroke-width="2.0"/>
<line x1="112.40" y1="56.30" x2="131.70" y2="56.30" stroke="#0072BD" stroke-width="1.9"/>
<text x="102.40" y="67.70" text-anchor="end" font-size="29.8" font-weight="bold" fill="#0072BD" textLength="64.86" lengthAdjust="spacingAndGlyphs">-0.02</text>
<line x1="112.40" y1="170.30" x2="131.70" y2="170.30" stroke="#0072BD" stroke-width="1.9"/>
<text x="102.40" y="181.70" text-anchor="end" font-size="29.8" font-weight="bold" fill="#0072BD" textLength="15.83" lengthAdjust="spacingAndGlyphs">0</text>
<line x1="112.40" y1="284.40" x2="131.70" y2="284.40" stroke="#0072BD" stroke-width="1.9"/>
<text x="102.40" y="295.80" text-anchor="end" font-size="29.8" font-weight="bold" fill="#0072BD" textLength="55.39" lengthAdjust="spacingAndGlyphs">0.02</text>
<line x1="112.40" y1="398.40" x2="131.70" y2="398.40" stroke="#0072BD" stroke-width="1.9"/>
<text x="102.40" y="409.80" text-anchor="end" font-size="29.8" font-weight="bold" fill="#0072BD" textLength="55.39" lengthAdjust="spacingAndGlyphs">0.04</text>
<line x1="112.40" y1="512.40" x2="131.70" y2="512.40" stroke="#0072BD" stroke-width="1.9"/>
<text x="102.40" y="523.80" text-anchor="end" font-size="29.8" font-weight="bold" fill="#0072BD" textLength="55.39" lengthAdjust="spacingAndGlyphs">0.06</text>
<line x1="1393.10" y1="19.60" x2="1412.30" y2="19.60" stroke="#4DBEEE" stroke-width="2.0"/>
<text x="1419.90" y="30.60" font-size="29.8" font-weight="bold" fill="#4DBEEE" textLength="15.83" lengthAdjust="spacingAndGlyphs">2</text>
<line x1="1393.10" y1="149.90" x2="1412.30" y2="149.90" stroke="#4DBEEE" stroke-width="2.0"/>
<text x="1419.90" y="160.90" font-size="29.8" font-weight="bold" fill="#4DBEEE" textLength="39.56" lengthAdjust="spacingAndGlyphs">1.5</text>
<line x1="1393.10" y1="280.20" x2="1412.30" y2="280.20" stroke="#4DBEEE" stroke-width="2.0"/>
<text x="1419.90" y="291.20" font-size="29.8" font-weight="bold" fill="#4DBEEE" textLength="15.83" lengthAdjust="spacingAndGlyphs">1</text>
<line x1="1393.10" y1="410.50" x2="1412.30" y2="410.50" stroke="#4DBEEE" stroke-width="2.0"/>
<text x="1419.90" y="421.50" font-size="29.8" font-weight="bold" fill="#4DBEEE" textLength="39.56" lengthAdjust="spacingAndGlyphs">0.5</text>
<line x1="1393.10" y1="540.90" x2="1412.30" y2="540.90" stroke="#4DBEEE" stroke-width="2.0"/>
<text x="1419.90" y="551.90" font-size="29.8" font-weight="bold" fill="#4DBEEE" textLength="15.83" lengthAdjust="spacingAndGlyphs">0</text>
<text transform="translate(31.50,0) rotate(-90)" y="0" font-weight="bold" fill="#0072BD"><tspan x="-344.45" font-size="32.7" textLength="27.20" lengthAdjust="spacingAndGlyphs">Δ</tspan><tspan x="-317.46" font-size="31" textLength="102.41" lengthAdjust="spacingAndGlyphs">v/v (%)</tspan></text>
<text transform="translate(1469.80,166.81) rotate(90)" font-size="29.5" font-weight="bold" fill="#4DBEEE" textLength="243.56" lengthAdjust="spacingAndGlyphs">Precipitation (m)</text>
<text x="8.24" y="35.70" font-size="41.5" font-weight="normal" fill="#000" textLength="21.83" lengthAdjust="spacingAndGlyphs">a</text>
<rect x="1131.2" y="20.4" width="260.4" height="117.0" fill="#fff" stroke="#4d4d4d" stroke-width="1"/>
<line x1="1137.30" y1="42.20" x2="1189.20" y2="42.20" stroke="#0072BD" stroke-width="4.0"/>
<text y="53.50" font-weight="bold" fill="#000"><tspan x="1194.39" font-size="25.6" textLength="22.30" lengthAdjust="spacingAndGlyphs">Δ</tspan><tspan x="1217.15" font-size="24.7" textLength="33.93" lengthAdjust="spacingAndGlyphs">v/v</tspan></text>
<line x1="1137.30" y1="79.10" x2="1189.20" y2="79.10" stroke="#808080" stroke-width="4.3"/>
<text y="91.00" font-weight="bold" fill="#000"><tspan x="1194.54" font-size="24.7" textLength="122.78" lengthAdjust="spacingAndGlyphs">Long-term </tspan><tspan x="1326.88" font-size="25.6" textLength="22.42" lengthAdjust="spacingAndGlyphs">Δ</tspan><tspan x="1349.76" font-size="24.7" textLength="33.63" lengthAdjust="spacingAndGlyphs">v/v</tspan></text>
<rect x="1137.6" y="101.6" width="52.0" height="28.7" fill="#BEE5FB" stroke="#4DBEEE" stroke-width="0.8"/>
<text x="1193.84" y="126.00" font-size="24.7" font-weight="bold" fill="#000" textLength="150.26" lengthAdjust="spacingAndGlyphs">Precipitation</text>
<line x1="251.99" y1="620.85" x2="251.99" y2="1062.00" stroke="#262626" stroke-width="1" stroke-opacity="0.13"/>
<line x1="372.08" y1="620.85" x2="372.08" y2="1062.00" stroke="#262626" stroke-width="1" stroke-opacity="0.13"/>
<line x1="492.17" y1="620.85" x2="492.17" y2="1062.00" stroke="#262626" stroke-width="1" stroke-opacity="0.13"/>
<line x1="612.26" y1="620.85" x2="612.26" y2="1062.00" stroke="#262626" stroke-width="1" stroke-opacity="0.13"/>
<line x1="732.35" y1="620.85" x2="732.35" y2="1062.00" stroke="#262626" stroke-width="1" stroke-opacity="0.13"/>
<line x1="852.44" y1="620.85" x2="852.44" y2="1062.00" stroke="#262626" stroke-width="1" stroke-opacity="0.13"/>
<line x1="972.53" y1="620.85" x2="972.53" y2="1062.00" stroke="#262626" stroke-width="1" stroke-opacity="0.13"/>
<line x1="1092.62" y1="620.85" x2="1092.62" y2="1062.00" stroke="#262626" stroke-width="1" stroke-opacity="0.13"/>
<line x1="1212.71" y1="620.85" x2="1212.71" y2="1062.00" stroke="#262626" stroke-width="1" stroke-opacity="0.13"/>
<line x1="1332.80" y1="620.85" x2="1332.80" y2="1062.00" stroke="#262626" stroke-width="1" stroke-opacity="0.13"/>
<line x1="131.70" y1="677.90" x2="1393.10" y2="677.90" stroke="#0072BD" stroke-width="1" stroke-opacity="0.13"/>
<line x1="131.70" y1="745.20" x2="1393.10" y2="745.20" stroke="#0072BD" stroke-width="1" stroke-opacity="0.13"/>
<line x1="131.70" y1="812.60" x2="1393.10" y2="812.60" stroke="#0072BD" stroke-width="1" stroke-opacity="0.13"/>
<line x1="131.70" y1="880.00" x2="1393.10" y2="880.00" stroke="#0072BD" stroke-width="1" stroke-opacity="0.13"/>
<line x1="131.70" y1="947.20" x2="1393.10" y2="947.20" stroke="#0072BD" stroke-width="1" stroke-opacity="0.13"/>
<line x1="131.70" y1="1014.40" x2="1393.10" y2="1014.40" stroke="#0072BD" stroke-width="1" stroke-opacity="0.13"/>
<line x1="1393.00" y1="620.85" x2="1393.00" y2="1062.00" stroke="#F2BB26" stroke-width="2.0"/>
<g clip-path="url(#cb)">
<polyline points="131.6,832.4 133.1,846.2 134.6,856.1 136.6,857.6 137.6,849.3 138.1,826.1 139.6,795.9 141.1,775.8 142.6,765.8 144.1,773.3 145.6,785.9 147.6,798.4 149.1,813.5 150.1,838.6 150.9,861.9 151.7,863.1 152.7,853.1 153.7,854.3 154.7,873.2 156.7,878.2 159.2,879.4 161.7,879.4 163.2,888.2 165.2,913.4 167.7,923.4 169.7,923.4 171.2,943.5 172.8,968.6 174.3,984.9 175.8,987.5 177.3,968.6 178.3,938.5 179.8,918.4 181.8,910.8 183.8,900.8 185.8,897.8 188.3,898.3 190.3,895.8 192.8,888.2 195.4,880.7 197.9,868.1 199.1,854.3 200.9,801.0 202.4,780.9 203.9,775.8 204.9,790.9 205.9,806.0 207.4,811.0 209.4,816.0 210.9,831.1 211.9,846.2 212.7,855.6 213.4,875.7 215.0,898.3 217.0,908.3 219.0,920.9 221.0,936.0 223.0,922.1 225.0,918.4 226.5,938.5 228.0,968.6 229.5,1001.3 231.0,1028.9 232.5,1046.5 234.0,1051.5 235.0,1039.0 236.1,1018.9 237.6,1011.3 239.1,1013.8 240.6,1001.3 241.6,963.6 242.6,925.9 243.6,903.3 245.1,892.0 247.1,887.0 248.6,890.8 250.1,903.3 251.6,888.2 253.1,863.1 254.6,833.6 256.6,824.8 258.7,827.3 260.2,836.1 261.4,848.7 261.9,853.1 263.2,863.1 264.7,883.2 266.7,903.3 268.7,918.4 270.7,925.9 272.2,933.5 273.7,958.6 275.2,988.7 276.7,1013.8 278.3,1021.4 279.8,1011.3 281.3,998.8 282.8,1013.8 284.3,1031.4 285.8,1028.9 287.3,1018.9 289.3,1013.8 290.8,1016.3 292.3,1031.4 293.8,1035.2 295.3,1031.4 296.8,1023.9 298.3,1013.8 299.4,988.7 300.4,951.0 301.4,913.4 302.4,883.2 302.9,860.6 304.4,826.1 305.9,801.0 307.4,775.8 308.9,760.8 310.4,758.3 311.9,763.3 313.4,780.9 314.9,798.4 316.4,808.5 318.4,811.0 320.5,806.0 322.0,808.5 323.5,821.0 325.0,836.1 326.2,848.7 326.7,853.1 328.0,868.1 329.5,888.2 331.5,903.3 333.5,923.4 335.5,938.5 337.5,943.5 339.5,948.5 341.6,956.1 343.6,961.1 345.6,966.1 347.6,973.6 349.6,981.2 351.6,984.9 353.6,986.2 355.1,981.2 356.6,968.6 358.6,951.0 360.6,933.5 362.7,913.4 364.7,888.2 366.2,863.1 367.2,853.1 367.7,775.8 369.2,759.5 370.7,758.3 372.2,770.8 373.7,788.4 375.2,798.4 376.7,801.0 378.2,793.4 380.2,783.4 382.2,780.9 383.8,790.9 385.3,801.0 386.8,808.5 388.8,818.5 390.8,826.1 392.8,836.1 394.1,848.7 394.6,853.1 395.8,868.1 397.8,893.3 399.8,918.4 401.3,913.4 403.3,925.9 405.9,943.5 408.9,948.5 410.9,947.3 412.4,956.1 413.9,968.6 415.4,979.9 416.9,984.9 418.9,973.6 420.4,948.5 421.9,913.4 422.9,875.7 423.7,853.1 424.4,826.1 426.5,811.0 428.5,801.0 430.5,780.9 432.0,768.3 434.0,763.3 435.5,740.7 437.0,720.6 438.5,714.3 440.0,720.6 441.5,735.6 443.0,745.7 444.5,750.7 446.6,743.2 448.6,739.4 450.1,745.7 451.6,770.8 453.1,795.9 454.6,813.5 456.6,818.5 458.1,821.0 459.6,828.6 461.1,826.1 462.6,813.5 464.1,795.9 465.6,778.3 467.1,774.6 468.7,780.9 470.2,798.4 471.7,818.5 473.2,826.1 474.2,821.0 475.7,795.9 477.2,755.7 478.7,720.6 480.2,695.5 481.7,682.9 484.1,681.6 485.6,684.1 487.1,676.6 488.6,674.1 490.1,682.9 491.6,684.1 493.1,675.4 494.6,667.8 496.1,660.3 497.6,654.0 499.1,659.0 500.6,656.5 502.2,647.7 503.7,644.0 505.2,644.7 506.7,646.5 508.2,657.8 509.7,675.4 511.2,695.5 512.7,710.5 514.2,715.5 515.7,718.1 517.2,730.6 518.7,736.9 520.7,735.6 522.8,735.6 524.3,750.7 525.8,768.3 527.8,785.9 529.8,795.9 531.3,798.4 532.8,790.9 534.3,775.8 535.8,767.0 537.3,765.8 538.8,758.3 540.3,750.7 541.8,749.5 543.3,752.0 544.9,748.2 546.9,748.2 548.4,736.9 549.9,735.6 551.4,743.2 552.9,748.2 554.4,743.2 555.9,730.6 557.4,718.1 558.9,713.0 560.4,714.3 561.9,723.1 563.4,745.7 565.0,770.8 566.5,795.9 568.0,801.0 569.5,780.9 570.5,755.7 571.5,738.2 573.0,740.7 574.5,760.8 576.0,773.3 578.0,775.8 579.5,783.4 581.0,798.4 582.5,813.5 584.0,828.6 586.1,836.1 587.6,848.7 588.1,853.1 589.1,868.1 590.6,883.2 592.6,895.8 594.1,913.4 595.6,933.5 597.1,951.0 598.6,963.6 600.1,966.1 601.6,961.1 603.1,953.5 604.6,956.1 606.1,971.1 607.7,981.2 609.2,981.2 610.7,958.6 612.2,930.9 613.7,913.4 615.2,915.9 616.7,923.4 618.2,920.9 619.7,910.8 621.2,898.3 622.7,900.8 624.2,905.8 625.7,903.3 627.2,893.3 628.3,890.8 629.8,898.3 631.3,910.8 632.8,923.4 634.3,936.0 636.3,938.5 638.3,933.5 640.3,938.5 642.3,948.5 643.8,943.5 645.3,920.9 646.8,910.8 647.8,920.9 648.8,943.5 650.4,968.6 651.9,988.7 653.4,995.0 655.4,988.7 657.4,986.2 659.4,988.7 661.4,981.2 663.4,971.1 665.4,968.6 666.9,958.6 668.4,943.5 669.9,939.7 671.5,943.5 673.5,946.0 675.0,943.5 676.5,956.1 678.0,973.6 679.5,958.6 681.0,946.0 683.0,948.5 685.0,953.5 687.0,956.1 689.0,958.6 691.0,968.6 692.6,981.2 694.1,993.7 695.6,1013.8 697.1,1026.4 698.6,1018.9 700.1,1008.8 701.6,998.8 703.1,1001.3 704.6,1013.8 706.1,1023.9 707.6,1028.9 709.1,1039.0 710.6,1051.5 711.6,1054.0 712.7,1039.0 713.7,1013.8 714.7,993.7 715.7,983.7 717.2,986.2 718.7,988.7 720.2,978.7 721.7,963.6 723.2,956.1 724.7,961.1 726.2,971.1 727.7,966.1 729.2,958.6 730.7,953.5 732.2,951.0 734.3,948.5 736.3,946.0 737.8,941.0 739.3,928.4 740.8,913.4 742.3,900.8 743.8,898.3 745.3,905.8 746.8,920.9 748.3,936.0 749.8,946.0 751.3,943.5 753.3,936.0 755.4,930.9 757.4,928.4 758.9,923.4 760.9,918.4 762.4,924.7 764.4,928.4 766.4,933.5 768.4,938.5 770.4,943.5 772.4,951.0 773.9,961.1 775.5,971.1 777.0,968.6 778.5,953.5 780.0,933.5 781.5,908.3 783.0,883.2 784.0,858.1 784.7,847.4 785.5,826.1 787.0,811.0 789.0,808.5 791.5,808.5 793.0,813.5 794.5,831.1 796.0,847.4 797.6,866.3 799.1,873.8 800.6,866.3 802.1,856.2 804.1,851.2 806.6,861.2 808.1,866.3 809.6,861.2 811.6,851.2 813.1,856.2 814.6,860.0 816.1,848.7 817.7,833.6 819.2,818.5 820.7,801.0 822.2,780.9 823.7,765.8 825.2,750.7 826.7,735.6 828.2,720.6 829.7,710.5 831.2,706.8 832.7,713.0 834.2,730.6 835.1,740.7 836.6,753.2 838.1,757.0 839.6,748.2 841.1,733.1 842.6,720.6 844.1,718.1 845.6,728.1 847.1,743.2 848.6,750.7 850.1,763.3 851.7,773.3 853.2,768.3 854.7,745.7 856.2,733.1 857.7,740.7 859.2,763.3 860.7,778.3 862.2,773.3 863.7,775.8 865.2,788.4 866.7,795.9 868.2,788.4 869.7,770.8 871.2,750.7 872.8,738.2 874.3,731.9 875.8,733.1 877.3,743.2 878.8,755.7 880.3,760.8 881.8,750.7 883.8,743.2 885.8,750.7 887.3,753.2 888.8,753.2 890.3,770.8 891.8,790.9 893.3,806.0 894.9,808.5 896.4,808.5 897.9,821.0 899.4,836.1 900.9,831.1 902.4,806.0 903.9,785.9 905.4,779.6 906.9,783.4 908.4,795.9 909.9,811.0 911.4,817.3 912.9,806.0 914.4,790.9 916.0,780.9 917.5,777.1 919.0,783.4 920.5,785.9 922.0,790.9 923.5,795.9 925.0,790.9 926.5,780.9 928.0,775.8 929.5,788.4 931.0,806.0 932.5,821.0 934.0,823.6 935.5,826.1 937.1,836.1 938.6,847.4 939.6,858.1 941.1,868.1 943.1,873.2 945.1,870.7 946.6,875.7 948.1,882.0 950.1,883.2 951.6,878.2 953.1,883.2 954.6,898.3 956.1,910.8 957.7,918.4 959.2,908.3 960.7,893.3 962.2,880.7 963.7,870.7 965.2,863.1 966.7,860.6 968.2,863.1 969.7,860.6 971.2,855.6 972.7,858.1 973.7,868.1 974.7,883.2 975.7,895.8 977.2,903.3 978.8,900.8 980.3,895.8 982.3,894.5 983.8,895.8 985.3,888.2 986.8,885.7 988.3,890.8 989.8,895.8 991.3,900.8 992.8,910.8 994.3,915.9 995.8,920.9 996.8,938.5 997.8,956.1 999.4,963.6 1000.9,958.6 1002.4,948.5 1003.9,946.0 1005.4,943.5 1006.4,953.5 1007.9,971.1 1009.4,972.4 1010.9,968.6 1012.4,973.6 1013.4,988.7 1014.9,996.3 1016.4,986.2 1017.9,988.7 1019.4,998.8 1021.0,988.7 1022.0,958.6 1023.0,954.8 1024.0,968.6 1025.0,988.7 1026.0,998.8 1027.0,978.7 1028.0,943.5 1029.5,918.4 1031.0,898.3 1032.5,893.3 1034.0,898.3 1035.5,908.3 1037.0,913.4 1038.5,918.4 1040.0,923.4 1041.6,923.4 1043.1,920.9 1044.6,918.4 1046.1,920.9 1047.6,923.4 1049.1,933.5 1050.6,948.5 1052.1,963.6 1053.6,978.7 1055.1,993.7 1056.6,988.7 1058.1,981.2 1059.6,993.7 1061.1,1013.8 1062.7,1016.3 1063.7,998.8 1064.7,973.6 1066.2,958.6 1067.7,963.6 1068.7,978.7 1070.2,1001.3 1071.7,993.7 1073.2,986.2 1074.7,993.7 1076.2,1006.3 1077.7,998.8 1078.7,986.2 1080.2,988.7 1081.7,983.7 1082.7,998.8 1083.8,1018.9 1085.3,1039.0 1086.8,1049.0 1088.3,1036.4 1089.3,1013.8 1090.3,993.7 1091.8,990.0 1093.3,998.8 1094.8,1008.8 1096.3,1011.3 1097.8,1006.3 1099.3,998.8 1100.8,995.0 1102.3,993.7 1103.8,1003.8 1105.4,1018.9 1106.9,1026.4 1108.4,1016.3 1109.9,1011.3 1111.4,1023.9 1112.9,1044.0 1114.4,1044.0 1115.9,1033.9 1117.4,1013.8 1118.9,993.7 1120.4,988.7 1121.9,991.2 1123.4,988.7 1124.9,987.5 1126.5,998.8 1128.0,1018.9 1129.5,1033.9 1131.0,1039.0 1132.5,1028.9 1134.0,1008.8 1135.5,986.2 1137.0,979.9 1138.5,988.7 1140.0,1013.8 1141.5,1039.0 1143.0,1051.5 1144.5,1054.0 1146.0,1046.5 1147.6,1049.0 1149.1,1059.0 1150.6,1056.5 1152.1,1039.0 1153.6,1001.3 1155.1,963.6 1156.6,938.5 1158.1,925.9 1159.6,918.4 1161.6,915.9 1163.6,910.8 1165.1,909.6 1166.6,918.4 1168.2,943.5 1169.7,963.6 1171.2,973.6 1172.7,981.2 1174.2,1001.3 1175.7,1028.9 1177.2,1042.7 1178.7,1028.9 1180.2,1008.8 1181.7,998.8 1183.2,996.3 1184.7,988.7 1186.2,963.6 1187.7,925.9 1188.8,888.2 1189.8,863.1 1190.3,851.2 1191.3,826.1 1192.3,795.9 1193.4,763.3 1194.4,730.6 1195.4,713.0 1196.9,708.0 1198.4,710.5 1199.9,705.5 1201.4,708.0 1202.9,703.0 1204.4,695.5 1205.9,692.9 1207.4,698.0 1208.9,685.4 1210.4,672.8 1211.9,662.8 1213.4,656.5 1215.0,655.3 1216.5,665.3 1218.0,685.4 1219.5,687.9 1221.0,690.4 1222.0,705.5 1223.5,725.6 1225.0,745.7 1226.5,770.8 1228.0,795.9 1229.5,816.0 1231.0,836.1 1232.5,846.2 1234.0,852.4 1235.6,846.2 1237.1,833.6 1238.6,821.0 1240.1,806.0 1241.6,790.9 1243.1,778.3 1244.6,777.1 1246.1,788.4 1247.6,806.0 1249.1,818.5 1250.6,813.5 1252.1,816.0 1253.6,831.1 1255.1,836.1 1256.7,828.6 1258.2,821.0 1259.7,818.5 1260.4,838.6 1261.2,863.0 1262.2,888.1 1263.7,910.7 1264.7,915.7 1266.2,908.2 1267.7,883.1 1269.2,858.0 1270.2,826.1 1271.2,818.5 1272.2,821.0 1273.2,811.0 1274.7,795.9 1276.2,780.9 1277.8,770.8 1279.3,765.8 1280.8,760.8 1282.3,755.7 1283.8,755.7 1285.3,768.3 1286.8,775.8 1288.3,770.8 1289.8,765.8 1291.3,773.3 1292.8,783.4 1294.3,788.4 1295.8,783.4 1297.3,785.9 1298.9,801.0 1299.9,821.0 1301.4,816.0 1302.9,806.0 1304.4,808.5 1305.9,813.5 1307.4,821.0 1308.9,831.1 1309.9,848.7 1310.4,858.0 1311.4,875.6 1312.4,884.4 1313.9,875.6 1315.4,863.0 1317.4,853.0 1320.0,847.9 1322.5,841.1 1324.5,826.1 1326.5,801.0 1328.0,783.4 1329.5,775.8 1331.0,773.3 1332.0,783.4 1333.0,811.0 1334.5,826.1 1336.0,827.3 1337.5,813.5 1339.0,790.9 1340.6,775.8 1342.1,755.7 1343.6,725.6 1345.1,700.5 1346.6,694.2 1348.1,698.0 1349.6,703.0 1351.1,695.5 1352.6,700.5 1354.1,710.5 1355.6,715.5 1357.1,713.0 1358.6,725.6 1360.1,735.6 1361.7,733.1 1363.2,740.7 1364.7,755.7 1366.2,765.8 1367.7,775.8 1369.2,785.9 1370.7,787.1 1372.2,798.4 1373.7,813.5 1375.2,826.1 1376.7,831.1 1378.2,828.6 1379.7,833.6 1381.2,838.6 1382.8,846.2 1384.3,853.7 1385.8,863.0 1387.3,868.0 1388.8,858.0 1390.3,841.1 1391.8,821.0 1393.3,813.5" fill="none" stroke="#0072BD" stroke-width="5.4" stroke-linejoin="round" stroke-linecap="round"/>
<polyline points="135.1,824.3 155.7,828.6 167.7,971.1 175.8,995.5 182.3,964.1 194.9,895.8 209.4,831.1 218.5,881.2 227.0,977.7 235.0,1038.2 242.1,1020.9 250.1,907.6 257.7,851.1 269.2,840.6 274.7,889.7 281.8,985.0 286.8,1002.5 291.8,1002.5 298.3,1004.3 303.4,955.3 316.4,795.4 317.9,878.9 324.0,825.3 339.5,919.6 343.6,944.8 347.6,943.5 356.1,957.6 362.7,940.0 367.2,880.2 373.2,806.0 378.7,795.4 383.3,795.9 387.5,768.8 393.8,821.6 398.3,864.4 403.3,902.1 407.9,954.3 412.4,980.7 417.4,1011.3 421.9,995.8 428.0,893.3 433.5,808.0 438.0,785.9 444.0,772.1 450.1,748.7 454.1,758.3 462.1,804.7 468.2,792.9 475.2,836.6 482.7,771.6 488.3,713.0 494.3,642.2 503.7,641.4 508.9,623.8 515.2,671.6 522.2,762.8 527.3,810.0 534.1,853.2 542.3,797.9 548.4,777.8 554.4,740.7 558.9,719.6 567.0,712.5 579.0,815.0 583.0,875.8 590.1,956.6 595.6,1024.4 602.1,1041.0 608.2,1032.9 616.2,969.6 619.7,934.0 625.7,906.3 630.8,906.3 637.3,950.5 643.3,993.0 649.4,1013.8 655.9,1033.4 661.9,1052.0 669.4,1037.7 675.0,996.8 679.5,1006.8 685.5,967.1 690.5,965.6 696.6,990.5 702.6,1007.8 708.6,1025.1 715.2,1036.4 723.2,1021.9 736.3,961.1 741.4,934.2 744.3,932.8 747.3,932.0 750.2,931.5 753.2,931.4 756.1,931.8 759.1,932.8 762.0,934.5 768.9,958.1 775.0,971.9 783.0,940.5 799.6,843.2 806.1,832.4 810.6,826.1 816.1,840.6 822.2,749.7 828.7,703.0 836.2,662.3 843.3,704.5 850.1,686.7 856.7,708.5 861.7,710.5 865.7,721.8 869.2,714.3 875.8,692.4 882.3,733.1 890.3,813.0 895.4,845.7 902.9,845.2 909.4,793.4 916.5,767.0 923.0,772.1 930.0,770.8 941.6,843.2 949.1,889.7 955.6,930.9 962.2,934.7 968.7,884.7 974.7,868.6 979.3,883.2 985.8,876.2 991.3,888.2 995.8,946.5 1001.9,990.2 1011.4,1036.9 1016.4,1051.0 1019.9,1059.0 1023.5,1044.5 1035.5,950.0 1046.1,912.1 1051.1,909.6 1056.6,905.3 1062.7,937.5 1068.7,947.0 1075.2,969.6 1079.7,974.9 1085.8,971.1 1089.8,958.6 1095.3,910.8 1103.3,902.1 1110.4,905.3 1115.9,910.8 1122.9,941.5 1129.5,970.6 1135.5,1006.3 1141.5,1015.3 1145.0,992.7 1149.6,975.2 1156.1,912.4 1162.1,861.1 1165.1,847.5 1188.2,872.7 1194.9,792.9 1202.4,714.3 1215.5,664.1 1220.5,696.2 1225.0,739.4 1230.5,768.8 1236.1,798.4 1243.6,804.0 1251.1,855.0 1265.7,881.2 1269.7,863.8 1276.2,823.6 1280.8,812.3 1284.8,788.9 1291.8,798.4 1296.8,795.9 1302.4,815.0 1311.9,851.8 1315.4,861.9 1321.0,838.6 1330.0,809.0 1335.5,793.4 1341.1,809.7 1351.1,724.3 1356.1,752.2 1363.7,767.8 1371.2,794.9 1376.7,827.3 1381.2,838.6 1386.3,843.2" fill="none" stroke="#F2BB26" stroke-width="3.7" stroke-linejoin="round"/>
<circle cx="135.1" cy="824.3" r="6.15" fill="none" stroke="#F2BB26" stroke-width="3.8"/>
<circle cx="155.7" cy="828.6" r="6.15" fill="none" stroke="#F2BB26" stroke-width="3.8"/>
<circle cx="167.7" cy="971.1" r="6.15" fill="none" stroke="#F2BB26" stroke-width="3.8"/>
<circle cx="175.8" cy="995.5" r="6.15" fill="none" stroke="#F2BB26" stroke-width="3.8"/>
<circle cx="182.3" cy="964.1" r="6.15" fill="none" stroke="#F2BB26" stroke-width="3.8"/>
<circle cx="194.9" cy="895.8" r="6.15" fill="none" stroke="#F2BB26" stroke-width="3.8"/>
<circle cx="209.4" cy="831.1" r="6.15" fill="none" stroke="#F2BB26" stroke-width="3.8"/>
<circle cx="218.5" cy="881.2" r="6.15" fill="none" stroke="#F2BB26" stroke-width="3.8"/>
<circle cx="227.0" cy="977.7" r="6.15" fill="none" stroke="#F2BB26" stroke-width="3.8"/>
<circle cx="235.0" cy="1038.2" r="6.15" fill="none" stroke="#F2BB26" stroke-width="3.8"/>
<circle cx="242.1" cy="1020.9" r="6.15" fill="none" stroke="#F2BB26" stroke-width="3.8"/>
<circle cx="250.1" cy="907.6" r="6.15" fill="none" stroke="#F2BB26" stroke-width="3.8"/>
<circle cx="257.7" cy="851.1" r="6.15" fill="none" stroke="#F2BB26" stroke-width="3.8"/>
<circle cx="269.2" cy="840.6" r="6.15" fill="none" stroke="#F2BB26" stroke-width="3.8"/>
<circle cx="274.7" cy="889.7" r="6.15" fill="none" stroke="#F2BB26" stroke-width="3.8"/>
<circle cx="281.8" cy="985.0" r="6.15" fill="none" stroke="#F2BB26" stroke-width="3.8"/>
<circle cx="286.8" cy="1002.5" r="6.15" fill="none" stroke="#F2BB26" stroke-width="3.8"/>
<circle cx="291.8" cy="1002.5" r="6.15" fill="none" stroke="#F2BB26" stroke-width="3.8"/>
<circle cx="298.3" cy="1004.3" r="6.15" fill="none" stroke="#F2BB26" stroke-width="3.8"/>
<circle cx="303.4" cy="955.3" r="6.15" fill="none" stroke="#F2BB26" stroke-width="3.8"/>
<circle cx="316.4" cy="795.4" r="6.15" fill="none" stroke="#F2BB26" stroke-width="3.8"/>
<circle cx="317.9" cy="878.9" r="6.15" fill="none" stroke="#F2BB26" stroke-width="3.8"/>
<circle cx="324.0" cy="825.3" r="6.15" fill="none" stroke="#F2BB26" stroke-width="3.8"/>
<circle cx="339.5" cy="919.6" r="6.15" fill="none" stroke="#F2BB26" stroke-width="3.8"/>
<circle cx="343.6" cy="944.8" r="6.15" fill="none" stroke="#F2BB26" stroke-width="3.8"/>
<circle cx="347.6" cy="943.5" r="6.15" fill="none" stroke="#F2BB26" stroke-width="3.8"/>
<circle cx="356.1" cy="957.6" r="6.15" fill="none" stroke="#F2BB26" stroke-width="3.8"/>
<circle cx="362.7" cy="940.0" r="6.15" fill="none" stroke="#F2BB26" stroke-width="3.8"/>
<circle cx="367.2" cy="880.2" r="6.15" fill="none" stroke="#F2BB26" stroke-width="3.8"/>
<circle cx="373.2" cy="806.0" r="6.15" fill="none" stroke="#F2BB26" stroke-width="3.8"/>
<circle cx="378.7" cy="795.4" r="6.15" fill="none" stroke="#F2BB26" stroke-width="3.8"/>
<circle cx="383.3" cy="795.9" r="6.15" fill="none" stroke="#F2BB26" stroke-width="3.8"/>
<circle cx="387.5" cy="768.8" r="6.15" fill="none" stroke="#F2BB26" stroke-width="3.8"/>
<circle cx="393.8" cy="821.6" r="6.15" fill="none" stroke="#F2BB26" stroke-width="3.8"/>
<circle cx="398.3" cy="864.4" r="6.15" fill="none" stroke="#F2BB26" stroke-width="3.8"/>
<circle cx="403.3" cy="902.1" r="6.15" fill="none" stroke="#F2BB26" stroke-width="3.8"/>
<circle cx="407.9" cy="954.3" r="6.15" fill="none" stroke="#F2BB26" stroke-width="3.8"/>
<circle cx="412.4" cy="980.7" r="6.15" fill="none" stroke="#F2BB26" stroke-width="3.8"/>
<circle cx="417.4" cy="1011.3" r="6.15" fill="none" stroke="#F2BB26" stroke-width="3.8"/>
<circle cx="421.9" cy="995.8" r="6.15" fill="none" stroke="#F2BB26" stroke-width="3.8"/>
<circle cx="428.0" cy="893.3" r="6.15" fill="none" stroke="#F2BB26" stroke-width="3.8"/>
<circle cx="433.5" cy="808.0" r="6.15" fill="none" stroke="#F2BB26" stroke-width="3.8"/>
<circle cx="438.0" cy="785.9" r="6.15" fill="none" stroke="#F2BB26" stroke-width="3.8"/>
<circle cx="444.0" cy="772.1" r="6.15" fill="none" stroke="#F2BB26" stroke-width="3.8"/>
<circle cx="450.1" cy="748.7" r="6.15" fill="none" stroke="#F2BB26" stroke-width="3.8"/>
<circle cx="454.1" cy="758.3" r="6.15" fill="none" stroke="#F2BB26" stroke-width="3.8"/>
<circle cx="462.1" cy="804.7" r="6.15" fill="none" stroke="#F2BB26" stroke-width="3.8"/>
<circle cx="468.2" cy="792.9" r="6.15" fill="none" stroke="#F2BB26" stroke-width="3.8"/>
<circle cx="475.2" cy="836.6" r="6.15" fill="none" stroke="#F2BB26" stroke-width="3.8"/>
<circle cx="482.7" cy="771.6" r="6.15" fill="none" stroke="#F2BB26" stroke-width="3.8"/>
<circle cx="488.3" cy="713.0" r="6.15" fill="none" stroke="#F2BB26" stroke-width="3.8"/>
<circle cx="494.3" cy="642.2" r="6.15" fill="none" stroke="#F2BB26" stroke-width="3.8"/>
<circle cx="503.7" cy="641.4" r="6.15" fill="none" stroke="#F2BB26" stroke-width="3.8"/>
<circle cx="508.9" cy="623.8" r="6.15" fill="none" stroke="#F2BB26" stroke-width="3.8"/>
<circle cx="515.2" cy="671.6" r="6.15" fill="none" stroke="#F2BB26" stroke-width="3.8"/>
<circle cx="522.2" cy="762.8" r="6.15" fill="none" stroke="#F2BB26" stroke-width="3.8"/>
<circle cx="527.3" cy="810.0" r="6.15" fill="none" stroke="#F2BB26" stroke-width="3.8"/>
<circle cx="534.1" cy="853.2" r="6.15" fill="none" stroke="#F2BB26" stroke-width="3.8"/>
<circle cx="542.3" cy="797.9" r="6.15" fill="none" stroke="#F2BB26" stroke-width="3.8"/>
<circle cx="548.4" cy="777.8" r="6.15" fill="none" stroke="#F2BB26" stroke-width="3.8"/>
<circle cx="554.4" cy="740.7" r="6.15" fill="none" stroke="#F2BB26" stroke-width="3.8"/>
<circle cx="558.9" cy="719.6" r="6.15" fill="none" stroke="#F2BB26" stroke-width="3.8"/>
<circle cx="567.0" cy="712.5" r="6.15" fill="none" stroke="#F2BB26" stroke-width="3.8"/>
<circle cx="579.0" cy="815.0" r="6.15" fill="none" stroke="#F2BB26" stroke-width="3.8"/>
<circle cx="583.0" cy="875.8" r="6.15" fill="none" stroke="#F2BB26" stroke-width="3.8"/>
<circle cx="590.1" cy="956.6" r="6.15" fill="none" stroke="#F2BB26" stroke-width="3.8"/>
<circle cx="595.6" cy="1024.4" r="6.15" fill="none" stroke="#F2BB26" stroke-width="3.8"/>
<circle cx="602.1" cy="1041.0" r="6.15" fill="none" stroke="#F2BB26" stroke-width="3.8"/>
<circle cx="608.2" cy="1032.9" r="6.15" fill="none" stroke="#F2BB26" stroke-width="3.8"/>
<circle cx="616.2" cy="969.6" r="6.15" fill="none" stroke="#F2BB26" stroke-width="3.8"/>
<circle cx="619.7" cy="934.0" r="6.15" fill="none" stroke="#F2BB26" stroke-width="3.8"/>
<circle cx="625.7" cy="906.3" r="6.15" fill="none" stroke="#F2BB26" stroke-width="3.8"/>
<circle cx="630.8" cy="906.3" r="6.15" fill="none" stroke="#F2BB26" stroke-width="3.8"/>
<circle cx="637.3" cy="950.5" r="6.15" fill="none" stroke="#F2BB26" stroke-width="3.8"/>
<circle cx="643.3" cy="993.0" r="6.15" fill="none" stroke="#F2BB26" stroke-width="3.8"/>
<circle cx="649.4" cy="1013.8" r="6.15" fill="none" stroke="#F2BB26" stroke-width="3.8"/>
<circle cx="655.9" cy="1033.4" r="6.15" fill="none" stroke="#F2BB26" stroke-width="3.8"/>
<circle cx="661.9" cy="1052.0" r="6.15" fill="none" stroke="#F2BB26" stroke-width="3.8"/>
<circle cx="669.4" cy="1037.7" r="6.15" fill="none" stroke="#F2BB26" stroke-width="3.8"/>
<circle cx="675.0" cy="996.8" r="6.15" fill="none" stroke="#F2BB26" stroke-width="3.8"/>
<circle cx="679.5" cy="1006.8" r="6.15" fill="none" stroke="#F2BB26" stroke-width="3.8"/>
<circle cx="685.5" cy="967.1" r="6.15" fill="none" stroke="#F2BB26" stroke-width="3.8"/>
<circle cx="690.5" cy="965.6" r="6.15" fill="none" stroke="#F2BB26" stroke-width="3.8"/>
<circle cx="696.6" cy="990.5" r="6.15" fill="none" stroke="#F2BB26" stroke-width="3.8"/>
<circle cx="702.6" cy="1007.8" r="6.15" fill="none" stroke="#F2BB26" stroke-width="3.8"/>
<circle cx="708.6" cy="1025.1" r="6.15" fill="none" stroke="#F2BB26" stroke-width="3.8"/>
<circle cx="715.2" cy="1036.4" r="6.15" fill="none" stroke="#F2BB26" stroke-width="3.8"/>
<circle cx="723.2" cy="1021.9" r="6.15" fill="none" stroke="#F2BB26" stroke-width="3.8"/>
<circle cx="736.3" cy="961.1" r="6.15" fill="none" stroke="#F2BB26" stroke-width="3.8"/>
<circle cx="741.4" cy="934.2" r="6.15" fill="none" stroke="#F2BB26" stroke-width="3.8"/>
<circle cx="744.3" cy="932.8" r="6.15" fill="none" stroke="#F2BB26" stroke-width="3.8"/>
<circle cx="747.3" cy="932.0" r="6.15" fill="none" stroke="#F2BB26" stroke-width="3.8"/>
<circle cx="750.2" cy="931.5" r="6.15" fill="none" stroke="#F2BB26" stroke-width="3.8"/>
<circle cx="753.2" cy="931.4" r="6.15" fill="none" stroke="#F2BB26" stroke-width="3.8"/>
<circle cx="756.1" cy="931.8" r="6.15" fill="none" stroke="#F2BB26" stroke-width="3.8"/>
<circle cx="759.1" cy="932.8" r="6.15" fill="none" stroke="#F2BB26" stroke-width="3.8"/>
<circle cx="762.0" cy="934.5" r="6.15" fill="none" stroke="#F2BB26" stroke-width="3.8"/>
<circle cx="768.9" cy="958.1" r="6.15" fill="none" stroke="#F2BB26" stroke-width="3.8"/>
<circle cx="775.0" cy="971.9" r="6.15" fill="none" stroke="#F2BB26" stroke-width="3.8"/>
<circle cx="783.0" cy="940.5" r="6.15" fill="none" stroke="#F2BB26" stroke-width="3.8"/>
<circle cx="799.6" cy="843.2" r="6.15" fill="none" stroke="#F2BB26" stroke-width="3.8"/>
<circle cx="806.1" cy="832.4" r="6.15" fill="none" stroke="#F2BB26" stroke-width="3.8"/>
<circle cx="810.6" cy="826.1" r="6.15" fill="none" stroke="#F2BB26" stroke-width="3.8"/>
<circle cx="816.1" cy="840.6" r="6.15" fill="none" stroke="#F2BB26" stroke-width="3.8"/>
<circle cx="822.2" cy="749.7" r="6.15" fill="none" stroke="#F2BB26" stroke-width="3.8"/>
<circle cx="828.7" cy="703.0" r="6.15" fill="none" stroke="#F2BB26" stroke-width="3.8"/>
<circle cx="836.2" cy="662.3" r="6.15" fill="none" stroke="#F2BB26" stroke-width="3.8"/>
<circle cx="843.3" cy="704.5" r="6.15" fill="none" stroke="#F2BB26" stroke-width="3.8"/>
<circle cx="850.1" cy="686.7" r="6.15" fill="none" stroke="#F2BB26" stroke-width="3.8"/>
<circle cx="856.7" cy="708.5" r="6.15" fill="none" stroke="#F2BB26" stroke-width="3.8"/>
<circle cx="861.7" cy="710.5" r="6.15" fill="none" stroke="#F2BB26" stroke-width="3.8"/>
<circle cx="865.7" cy="721.8" r="6.15" fill="none" stroke="#F2BB26" stroke-width="3.8"/>
<circle cx="869.2" cy="714.3" r="6.15" fill="none" stroke="#F2BB26" stroke-width="3.8"/>
<circle cx="875.8" cy="692.4" r="6.15" fill="none" stroke="#F2BB26" stroke-width="3.8"/>
<circle cx="882.3" cy="733.1" r="6.15" fill="none" stroke="#F2BB26" stroke-width="3.8"/>
<circle cx="890.3" cy="813.0" r="6.15" fill="none" stroke="#F2BB26" stroke-width="3.8"/>
<circle cx="895.4" cy="845.7" r="6.15" fill="none" stroke="#F2BB26" stroke-width="3.8"/>
<circle cx="902.9" cy="845.2" r="6.15" fill="none" stroke="#F2BB26" stroke-width="3.8"/>
<circle cx="909.4" cy="793.4" r="6.15" fill="none" stroke="#F2BB26" stroke-width="3.8"/>
<circle cx="916.5" cy="767.0" r="6.15" fill="none" stroke="#F2BB26" stroke-width="3.8"/>
<circle cx="923.0" cy="772.1" r="6.15" fill="none" stroke="#F2BB26" stroke-width="3.8"/>
<circle cx="930.0" cy="770.8" r="6.15" fill="none" stroke="#F2BB26" stroke-width="3.8"/>
<circle cx="941.6" cy="843.2" r="6.15" fill="none" stroke="#F2BB26" stroke-width="3.8"/>
<circle cx="949.1" cy="889.7" r="6.15" fill="none" stroke="#F2BB26" stroke-width="3.8"/>
<circle cx="955.6" cy="930.9" r="6.15" fill="none" stroke="#F2BB26" stroke-width="3.8"/>
<circle cx="962.2" cy="934.7" r="6.15" fill="none" stroke="#F2BB26" stroke-width="3.8"/>
<circle cx="968.7" cy="884.7" r="6.15" fill="none" stroke="#F2BB26" stroke-width="3.8"/>
<circle cx="974.7" cy="868.6" r="6.15" fill="none" stroke="#F2BB26" stroke-width="3.8"/>
<circle cx="979.3" cy="883.2" r="6.15" fill="none" stroke="#F2BB26" stroke-width="3.8"/>
<circle cx="985.8" cy="876.2" r="6.15" fill="none" stroke="#F2BB26" stroke-width="3.8"/>
<circle cx="991.3" cy="888.2" r="6.15" fill="none" stroke="#F2BB26" stroke-width="3.8"/>
<circle cx="995.8" cy="946.5" r="6.15" fill="none" stroke="#F2BB26" stroke-width="3.8"/>
<circle cx="1001.9" cy="990.2" r="6.15" fill="none" stroke="#F2BB26" stroke-width="3.8"/>
<circle cx="1011.4" cy="1036.9" r="6.15" fill="none" stroke="#F2BB26" stroke-width="3.8"/>
<circle cx="1016.4" cy="1051.0" r="6.15" fill="none" stroke="#F2BB26" stroke-width="3.8"/>
<circle cx="1019.9" cy="1059.0" r="6.15" fill="none" stroke="#F2BB26" stroke-width="3.8"/>
<circle cx="1023.5" cy="1044.5" r="6.15" fill="none" stroke="#F2BB26" stroke-width="3.8"/>
<circle cx="1035.5" cy="950.0" r="6.15" fill="none" stroke="#F2BB26" stroke-width="3.8"/>
<circle cx="1046.1" cy="912.1" r="6.15" fill="none" stroke="#F2BB26" stroke-width="3.8"/>
<circle cx="1051.1" cy="909.6" r="6.15" fill="none" stroke="#F2BB26" stroke-width="3.8"/>
<circle cx="1056.6" cy="905.3" r="6.15" fill="none" stroke="#F2BB26" stroke-width="3.8"/>
<circle cx="1062.7" cy="937.5" r="6.15" fill="none" stroke="#F2BB26" stroke-width="3.8"/>
<circle cx="1068.7" cy="947.0" r="6.15" fill="none" stroke="#F2BB26" stroke-width="3.8"/>
<circle cx="1075.2" cy="969.6" r="6.15" fill="none" stroke="#F2BB26" stroke-width="3.8"/>
<circle cx="1079.7" cy="974.9" r="6.15" fill="none" stroke="#F2BB26" stroke-width="3.8"/>
<circle cx="1085.8" cy="971.1" r="6.15" fill="none" stroke="#F2BB26" stroke-width="3.8"/>
<circle cx="1089.8" cy="958.6" r="6.15" fill="none" stroke="#F2BB26" stroke-width="3.8"/>
<circle cx="1095.3" cy="910.8" r="6.15" fill="none" stroke="#F2BB26" stroke-width="3.8"/>
<circle cx="1103.3" cy="902.1" r="6.15" fill="none" stroke="#F2BB26" stroke-width="3.8"/>
<circle cx="1110.4" cy="905.3" r="6.15" fill="none" stroke="#F2BB26" stroke-width="3.8"/>
<circle cx="1115.9" cy="910.8" r="6.15" fill="none" stroke="#F2BB26" stroke-width="3.8"/>
<circle cx="1122.9" cy="941.5" r="6.15" fill="none" stroke="#F2BB26" stroke-width="3.8"/>
<circle cx="1129.5" cy="970.6" r="6.15" fill="none" stroke="#F2BB26" stroke-width="3.8"/>
<circle cx="1135.5" cy="1006.3" r="6.15" fill="none" stroke="#F2BB26" stroke-width="3.8"/>
<circle cx="1141.5" cy="1015.3" r="6.15" fill="none" stroke="#F2BB26" stroke-width="3.8"/>
<circle cx="1145.0" cy="992.7" r="6.15" fill="none" stroke="#F2BB26" stroke-width="3.8"/>
<circle cx="1149.6" cy="975.2" r="6.15" fill="none" stroke="#F2BB26" stroke-width="3.8"/>
<circle cx="1156.1" cy="912.4" r="6.15" fill="none" stroke="#F2BB26" stroke-width="3.8"/>
<circle cx="1162.1" cy="861.1" r="6.15" fill="none" stroke="#F2BB26" stroke-width="3.8"/>
<circle cx="1165.1" cy="847.5" r="6.15" fill="none" stroke="#F2BB26" stroke-width="3.8"/>
<circle cx="1188.2" cy="872.7" r="6.15" fill="none" stroke="#F2BB26" stroke-width="3.8"/>
<circle cx="1194.9" cy="792.9" r="6.15" fill="none" stroke="#F2BB26" stroke-width="3.8"/>
<circle cx="1202.4" cy="714.3" r="6.15" fill="none" stroke="#F2BB26" stroke-width="3.8"/>
<circle cx="1215.5" cy="664.1" r="6.15" fill="none" stroke="#F2BB26" stroke-width="3.8"/>
<circle cx="1220.5" cy="696.2" r="6.15" fill="none" stroke="#F2BB26" stroke-width="3.8"/>
<circle cx="1225.0" cy="739.4" r="6.15" fill="none" stroke="#F2BB26" stroke-width="3.8"/>
<circle cx="1230.5" cy="768.8" r="6.15" fill="none" stroke="#F2BB26" stroke-width="3.8"/>
<circle cx="1236.1" cy="798.4" r="6.15" fill="none" stroke="#F2BB26" stroke-width="3.8"/>
<circle cx="1243.6" cy="804.0" r="6.15" fill="none" stroke="#F2BB26" stroke-width="3.8"/>
<circle cx="1251.1" cy="855.0" r="6.15" fill="none" stroke="#F2BB26" stroke-width="3.8"/>
<circle cx="1265.7" cy="881.2" r="6.15" fill="none" stroke="#F2BB26" stroke-width="3.8"/>
<circle cx="1269.7" cy="863.8" r="6.15" fill="none" stroke="#F2BB26" stroke-width="3.8"/>
<circle cx="1276.2" cy="823.6" r="6.15" fill="none" stroke="#F2BB26" stroke-width="3.8"/>
<circle cx="1280.8" cy="812.3" r="6.15" fill="none" stroke="#F2BB26" stroke-width="3.8"/>
<circle cx="1284.8" cy="788.9" r="6.15" fill="none" stroke="#F2BB26" stroke-width="3.8"/>
<circle cx="1291.8" cy="798.4" r="6.15" fill="none" stroke="#F2BB26" stroke-width="3.8"/>
<circle cx="1296.8" cy="795.9" r="6.15" fill="none" stroke="#F2BB26" stroke-width="3.8"/>
<circle cx="1302.4" cy="815.0" r="6.15" fill="none" stroke="#F2BB26" stroke-width="3.8"/>
<circle cx="1311.9" cy="851.8" r="6.15" fill="none" stroke="#F2BB26" stroke-width="3.8"/>
<circle cx="1315.4" cy="861.9" r="6.15" fill="none" stroke="#F2BB26" stroke-width="3.8"/>
<circle cx="1321.0" cy="838.6" r="6.15" fill="none" stroke="#F2BB26" stroke-width="3.8"/>
<circle cx="1330.0" cy="809.0" r="6.15" fill="none" stroke="#F2BB26" stroke-width="3.8"/>
<circle cx="1335.5" cy="793.4" r="6.15" fill="none" stroke="#F2BB26" stroke-width="3.8"/>
<circle cx="1341.1" cy="809.7" r="6.15" fill="none" stroke="#F2BB26" stroke-width="3.8"/>
<circle cx="1351.1" cy="724.3" r="6.15" fill="none" stroke="#F2BB26" stroke-width="3.8"/>
<circle cx="1356.1" cy="752.2" r="6.15" fill="none" stroke="#F2BB26" stroke-width="3.8"/>
<circle cx="1363.7" cy="767.8" r="6.15" fill="none" stroke="#F2BB26" stroke-width="3.8"/>
<circle cx="1371.2" cy="794.9" r="6.15" fill="none" stroke="#F2BB26" stroke-width="3.8"/>
<circle cx="1376.7" cy="827.3" r="6.15" fill="none" stroke="#F2BB26" stroke-width="3.8"/>
<circle cx="1381.2" cy="838.6" r="6.15" fill="none" stroke="#F2BB26" stroke-width="3.8"/>
<circle cx="1386.3" cy="843.2" r="6.15" fill="none" stroke="#F2BB26" stroke-width="3.8"/>
</g>
<line x1="130.70" y1="620.85" x2="1394.10" y2="620.85" stroke="#000" stroke-width="2.0"/>
<line x1="130.70" y1="1062.00" x2="1394.10" y2="1062.00" stroke="#000" stroke-width="2.0"/>
<line x1="132.10" y1="600.95" x2="132.10" y2="620.85" stroke="#000" stroke-width="2.1"/>
<line x1="132.10" y1="1062.00" x2="132.10" y2="1081.90" stroke="#000" stroke-width="2.1"/>
<text x="131.40" y="1119.60" text-anchor="middle" font-size="29.8" font-weight="bold" fill="#000" textLength="63.31" lengthAdjust="spacingAndGlyphs">2000</text>
<line x1="252.19" y1="600.95" x2="252.19" y2="620.85" stroke="#000" stroke-width="2.1"/>
<line x1="252.19" y1="1062.00" x2="252.19" y2="1081.90" stroke="#000" stroke-width="2.1"/>
<text x="251.49" y="1119.60" text-anchor="middle" font-size="29.8" font-weight="bold" fill="#000" textLength="63.31" lengthAdjust="spacingAndGlyphs">2002</text>
<line x1="372.28" y1="600.95" x2="372.28" y2="620.85" stroke="#000" stroke-width="2.1"/>
<line x1="372.28" y1="1062.00" x2="372.28" y2="1081.90" stroke="#000" stroke-width="2.1"/>
<text x="371.58" y="1119.60" text-anchor="middle" font-size="29.8" font-weight="bold" fill="#000" textLength="63.31" lengthAdjust="spacingAndGlyphs">2004</text>
<line x1="492.37" y1="600.95" x2="492.37" y2="620.85" stroke="#000" stroke-width="2.1"/>
<line x1="492.37" y1="1062.00" x2="492.37" y2="1081.90" stroke="#000" stroke-width="2.1"/>
<text x="491.67" y="1119.60" text-anchor="middle" font-size="29.8" font-weight="bold" fill="#000" textLength="63.31" lengthAdjust="spacingAndGlyphs">2006</text>
<line x1="612.46" y1="600.95" x2="612.46" y2="620.85" stroke="#000" stroke-width="2.1"/>
<line x1="612.46" y1="1062.00" x2="612.46" y2="1081.90" stroke="#000" stroke-width="2.1"/>
<text x="611.76" y="1119.60" text-anchor="middle" font-size="29.8" font-weight="bold" fill="#000" textLength="63.31" lengthAdjust="spacingAndGlyphs">2008</text>
<line x1="732.55" y1="600.95" x2="732.55" y2="620.85" stroke="#000" stroke-width="2.1"/>
<line x1="732.55" y1="1062.00" x2="732.55" y2="1081.90" stroke="#000" stroke-width="2.1"/>
<text x="731.85" y="1119.60" text-anchor="middle" font-size="29.8" font-weight="bold" fill="#000" textLength="63.31" lengthAdjust="spacingAndGlyphs">2010</text>
<line x1="852.64" y1="600.95" x2="852.64" y2="620.85" stroke="#000" stroke-width="2.1"/>
<line x1="852.64" y1="1062.00" x2="852.64" y2="1081.90" stroke="#000" stroke-width="2.1"/>
<text x="851.94" y="1119.60" text-anchor="middle" font-size="29.8" font-weight="bold" fill="#000" textLength="63.31" lengthAdjust="spacingAndGlyphs">2012</text>
<line x1="972.73" y1="600.95" x2="972.73" y2="620.85" stroke="#000" stroke-width="2.1"/>
<line x1="972.73" y1="1062.00" x2="972.73" y2="1081.90" stroke="#000" stroke-width="2.1"/>
<text x="972.03" y="1119.60" text-anchor="middle" font-size="29.8" font-weight="bold" fill="#000" textLength="63.31" lengthAdjust="spacingAndGlyphs">2014</text>
<line x1="1092.82" y1="600.95" x2="1092.82" y2="620.85" stroke="#000" stroke-width="2.1"/>
<line x1="1092.82" y1="1062.00" x2="1092.82" y2="1081.90" stroke="#000" stroke-width="2.1"/>
<text x="1092.12" y="1119.60" text-anchor="middle" font-size="29.8" font-weight="bold" fill="#000" textLength="63.31" lengthAdjust="spacingAndGlyphs">2016</text>
<line x1="1212.91" y1="600.95" x2="1212.91" y2="620.85" stroke="#000" stroke-width="2.1"/>
<line x1="1212.91" y1="1062.00" x2="1212.91" y2="1081.90" stroke="#000" stroke-width="2.1"/>
<text x="1212.21" y="1119.60" text-anchor="middle" font-size="29.8" font-weight="bold" fill="#000" textLength="63.31" lengthAdjust="spacingAndGlyphs">2018</text>
<line x1="1333.00" y1="600.95" x2="1333.00" y2="620.85" stroke="#000" stroke-width="2.1"/>
<line x1="1333.00" y1="1062.00" x2="1333.00" y2="1081.90" stroke="#000" stroke-width="2.1"/>
<text x="1332.30" y="1119.60" text-anchor="middle" font-size="29.8" font-weight="bold" fill="#000" textLength="63.31" lengthAdjust="spacingAndGlyphs">2020</text>
<line x1="132.00" y1="620.85" x2="132.00" y2="1062.00" stroke="#0072BD" stroke-width="2.0"/>
<line x1="112.40" y1="677.90" x2="131.70" y2="677.90" stroke="#0072BD" stroke-width="2.1"/>
<text x="102.40" y="689.30" text-anchor="end" font-size="29.8" font-weight="bold" fill="#0072BD" textLength="64.86" lengthAdjust="spacingAndGlyphs">-0.06</text>
<line x1="112.40" y1="745.20" x2="131.70" y2="745.20" stroke="#0072BD" stroke-width="2.1"/>
<text x="102.40" y="756.60" text-anchor="end" font-size="29.8" font-weight="bold" fill="#0072BD" textLength="64.86" lengthAdjust="spacingAndGlyphs">-0.04</text>
<line x1="112.40" y1="812.60" x2="131.70" y2="812.60" stroke="#0072BD" stroke-width="2.1"/>
<text x="102.40" y="824.00" text-anchor="end" font-size="29.8" font-weight="bold" fill="#0072BD" textLength="64.86" lengthAdjust="spacingAndGlyphs">-0.02</text>
<line x1="112.40" y1="880.00" x2="131.70" y2="880.00" stroke="#0072BD" stroke-width="2.1"/>
<text x="102.40" y="891.40" text-anchor="end" font-size="29.8" font-weight="bold" fill="#0072BD" textLength="15.83" lengthAdjust="spacingAndGlyphs">0</text>
<line x1="112.40" y1="947.20" x2="131.70" y2="947.20" stroke="#0072BD" stroke-width="2.1"/>
<text x="102.40" y="958.60" text-anchor="end" font-size="29.8" font-weight="bold" fill="#0072BD" textLength="55.39" lengthAdjust="spacingAndGlyphs">0.02</text>
<line x1="112.40" y1="1014.40" x2="131.70" y2="1014.40" stroke="#0072BD" stroke-width="2.1"/>
<text x="102.40" y="1025.80" text-anchor="end" font-size="29.8" font-weight="bold" fill="#0072BD" textLength="55.39" lengthAdjust="spacingAndGlyphs">0.04</text>
<line x1="1393.10" y1="681.80" x2="1412.30" y2="681.80" stroke="#F2BB26" stroke-width="2.1"/>
<text x="1419.90" y="693.00" font-size="29.8" font-weight="bold" fill="#F2BB26" textLength="15.83" lengthAdjust="spacingAndGlyphs">4</text>
<line x1="1393.10" y1="773.10" x2="1412.30" y2="773.10" stroke="#F2BB26" stroke-width="2.1"/>
<text x="1419.90" y="784.30" font-size="29.8" font-weight="bold" fill="#F2BB26" textLength="15.83" lengthAdjust="spacingAndGlyphs">0</text>
<line x1="1393.10" y1="864.20" x2="1412.30" y2="864.20" stroke="#F2BB26" stroke-width="2.1"/>
<text x="1419.90" y="875.40" font-size="29.8" font-weight="bold" fill="#F2BB26" textLength="25.30" lengthAdjust="spacingAndGlyphs">-4</text>
<line x1="1393.10" y1="955.20" x2="1412.30" y2="955.20" stroke="#F2BB26" stroke-width="2.1"/>
<text x="1419.90" y="966.40" font-size="29.8" font-weight="bold" fill="#F2BB26" textLength="25.30" lengthAdjust="spacingAndGlyphs">-8</text>
<line x1="1393.10" y1="1046.30" x2="1412.30" y2="1046.30" stroke="#F2BB26" stroke-width="2.1"/>
<text x="1419.90" y="1057.50" font-size="29.8" font-weight="bold" fill="#F2BB26" textLength="41.13" lengthAdjust="spacingAndGlyphs">-12</text>
<text transform="translate(23.60,0) rotate(-90)" y="0" font-weight="bold" fill="#0072BD"><tspan x="-905.95" font-size="32.7" textLength="27.20" lengthAdjust="spacingAndGlyphs">Δ</tspan><tspan x="-878.95" font-size="31" textLength="101.80" lengthAdjust="spacingAndGlyphs">v/v (%)</tspan></text>
<text transform="translate(1458.10,708.96) rotate(90)" font-size="30.5" font-weight="bold" fill="#F2BB26" textLength="280.03" lengthAdjust="spacingAndGlyphs">Hydraulic head (m)</text>
<text x="2.18" y="636.40" font-size="41.5" font-weight="normal" fill="#000" textLength="23.71" lengthAdjust="spacingAndGlyphs">b</text>
<rect x="132.7" y="621.5" width="255.6" height="72.0" fill="#fff" stroke="#1a1a1a" stroke-width="1"/>
<line x1="139.90" y1="641.40" x2="193.30" y2="641.40" stroke="#0072BD" stroke-width="5.1"/>
<text y="652.80" font-weight="bold" fill="#000"><tspan x="199.09" font-size="26.2" textLength="22.82" lengthAdjust="spacingAndGlyphs">Δ</tspan><tspan x="222.35" font-size="25" textLength="34.50" lengthAdjust="spacingAndGlyphs">v/v</tspan></text>
<line x1="139.90" y1="674.00" x2="193.30" y2="674.00" stroke="#F2BB26" stroke-width="4.0"/>
<circle cx="166.3" cy="674.0" r="6.15" fill="#fff" stroke="#F2BB26" stroke-width="3.6"/>
<line x1="160.20" y1="674.00" x2="172.40" y2="674.00" stroke="#F2BB26" stroke-width="4.0"/>
<text x="198.11" y="683.60" font-size="25" font-weight="bold" fill="#000" textLength="183.56" lengthAdjust="spacingAndGlyphs">Hydraulic head</text>
</svg></body></html>
